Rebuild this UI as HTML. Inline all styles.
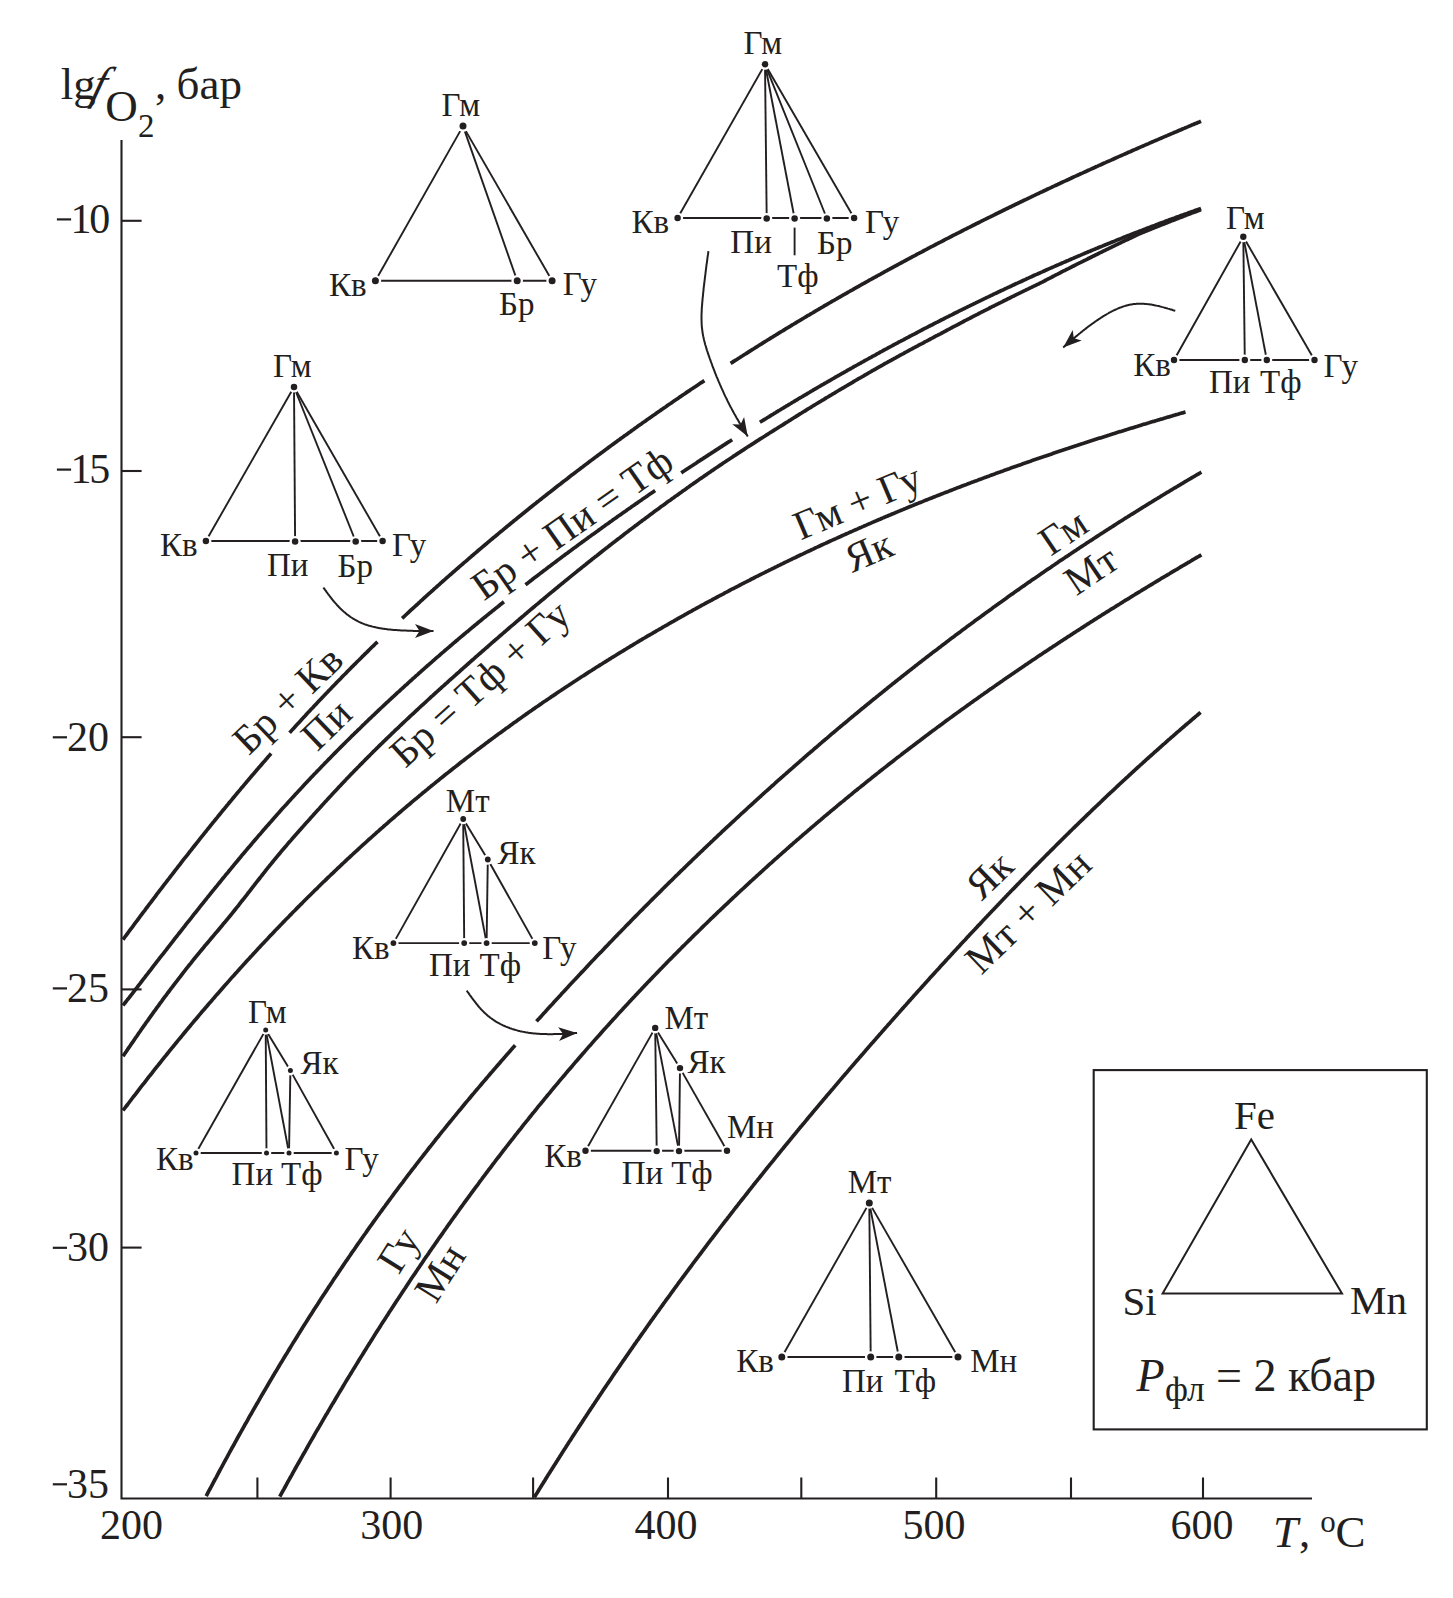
<!DOCTYPE html>
<html><head><meta charset="utf-8"><style>
html,body{margin:0;padding:0;background:#fff;}
body{width:1453px;height:1598px;overflow:hidden;}
svg{display:block;font-family:"Liberation Serif",serif;}
</style></head><body>
<svg width="1453" height="1598" viewBox="0 0 1453 1598">
<rect width="1453" height="1598" fill="#fff"/>
<g stroke="#231f20" stroke-width="2.1" fill="none" stroke-linecap="butt">
<path d="M121.5 140 L121.5 1498.5 L1312 1498.5"/>
<path d="M121.5 220.8 L141.6 220.8"/>
<path d="M121.5 471.0 L141.6 471.0"/>
<path d="M121.5 737.2 L141.6 737.2"/>
<path d="M121.5 989.4 L141.6 989.4"/>
<path d="M121.5 1247.6 L141.6 1247.6"/>
<path d="M257.4 1498 L257.4 1477.5"/>
<path d="M390.6 1498 L390.6 1477.5"/>
<path d="M533.1 1498 L533.1 1477.5"/>
<path d="M668.0 1498 L668.0 1477.5"/>
<path d="M801.3 1498 L801.3 1477.5"/>
<path d="M936.2 1498 L936.2 1477.5"/>
<path d="M1071.0 1498 L1071.0 1477.5"/>
<path d="M1203.0 1498 L1203.0 1477.5"/>
</g>
<g fill="#231f20" style="font-family:&quot;Liberation Serif&quot;,serif">
<text x="70.6" y="232.6" font-size="42.0" text-anchor="start" >1</text>
<text x="89.2" y="232.6" font-size="42.0" text-anchor="start" >0</text>
<text x="70.6" y="482.8" font-size="42.0" text-anchor="start" >1</text>
<text x="89.2" y="482.8" font-size="42.0" text-anchor="start" >5</text>
<text x="109.0" y="750.5" font-size="42.0" text-anchor="end" >20</text>
<text x="109.0" y="1001.6" font-size="42.0" text-anchor="end" >25</text>
<text x="109.0" y="1261.0" font-size="42.0" text-anchor="end" >30</text>
<text x="109.0" y="1497.5" font-size="42.0" text-anchor="end" >35</text>
</g>
<g stroke="#231f20" stroke-width="2.2">
<path d="M56.9 219.4 L71.1 219.4"/>
<path d="M56.9 469.6 L71.1 469.6"/>
<path d="M52.8 737.3 L67.0 737.3"/>
<path d="M52.8 988.4 L67.0 988.4"/>
<path d="M52.8 1247.8 L67.0 1247.8"/>
<path d="M52.8 1484.3 L67.0 1484.3"/>
</g>
<g fill="#231f20" style="font-family:&quot;Liberation Serif&quot;,serif">
<text x="131.5" y="1538.5" font-size="42.0" text-anchor="middle" >200</text>
<text x="391.7" y="1538.5" font-size="42.0" text-anchor="middle" >300</text>
<text x="666.0" y="1538.5" font-size="42.0" text-anchor="middle" >400</text>
<text x="934.0" y="1538.5" font-size="42.0" text-anchor="middle" >500</text>
<text x="1202.0" y="1538.5" font-size="42.0" text-anchor="middle" >600</text>
<text x="1273.0" y="1546.5" font-size="45.0" text-anchor="start" font-style="italic">T</text>
<text x="1299.0" y="1546.5" font-size="45.0" text-anchor="start" >,</text>
<text x="1320.2" y="1532.0" font-size="31.0" text-anchor="start" >o</text>
<text x="1335.5" y="1546.5" font-size="45.0" text-anchor="start" >C</text>
<text x="60.8" y="98.8" font-size="45.0" text-anchor="start" >lg</text>
<text transform="translate(89.5 98.8) skewX(-16)" font-size="46" font-style="italic">f</text>
<text x="105.3" y="121.0" font-size="45.0" text-anchor="start" >O</text>
<text x="138.1" y="136.9" font-size="33.0" text-anchor="start" >2</text>
<text x="155.0" y="98.8" font-size="45.0" text-anchor="start" >,</text>
<text x="176.6" y="98.8" font-size="45.0" text-anchor="start" >&#1073;&#1072;&#1088;</text>
</g>
<g stroke="#231f20" stroke-width="3.7" fill="none" stroke-linecap="butt" stroke-linejoin="round">
<path d="M123.0 939.6 L124.5 937.5 L126.1 935.4 L127.6 933.3 L129.2 931.2 L130.7 929.2 L132.3 927.1 L133.8 925.0 L135.3 922.9 L136.9 920.9 L138.4 918.8 L140.0 916.7 L141.5 914.7 L143.0 912.6 L144.6 910.6 L146.1 908.5 L147.7 906.5 L149.2 904.4 L150.8 902.4 L152.3 900.3 L153.8 898.3 L155.4 896.3 L156.9 894.2 L158.5 892.2 L160.0 890.2 L161.6 888.2 L163.1 886.1 L164.6 884.1 L166.2 882.1 L167.7 880.1 L169.3 878.1 L170.8 876.1 L172.4 874.1 L173.9 872.1 L175.4 870.1 L177.0 868.1 L178.5 866.1 L180.1 864.2 L181.6 862.2 L183.1 860.2 L184.7 858.2 L186.2 856.3 L187.8 854.3 L189.3 852.3 L190.9 850.4 L192.4 848.4 L193.9 846.5 L195.5 844.5 L197.0 842.6 L198.6 840.6 L200.1 838.7 L201.7 836.7 L203.2 834.8 L204.7 832.9 L206.3 831.0 L207.8 829.0 L209.4 827.1 L210.9 825.2 L212.4 823.3 L214.0 821.4 L215.5 819.5 L217.1 817.6 L218.6 815.7 L220.2 813.8 L221.7 811.9 L223.2 810.0 L224.8 808.2 L226.3 806.3 L227.9 804.4 L229.4 802.5 L231.0 800.7 L232.5 798.8 L234.0 797.0 L235.6 795.1 L237.1 793.3 L238.7 791.4 L240.2 789.6 L241.7 787.7 L243.3 785.9 L244.8 784.1 L246.4 782.2 L247.9 780.4 L249.5 778.6 L251.0 776.8 L252.5 775.0 L254.1 773.2 L255.6 771.4 L257.2 769.6 L258.7 767.8 L260.3 766.0 L261.8 764.2 L263.3 762.4 L264.9 760.7 L266.4 758.9 L268.0 757.1 L269.5 755.4 L271.1 753.6 M289.6 732.8 L291.1 731.1 L292.6 729.4 L294.2 727.7 L295.7 726.0 L297.3 724.3 L298.8 722.7 L300.4 721.0 L301.9 719.3 L303.4 717.6 L305.0 716.0 L306.5 714.3 L308.1 712.6 L309.6 711.0 L311.1 709.3 L312.7 707.7 L314.2 706.0 L315.8 704.4 L317.3 702.8 L318.9 701.1 L320.4 699.5 L321.9 697.9 L323.5 696.3 L325.0 694.6 L326.6 693.0 L328.1 691.4 L329.7 689.8 L331.2 688.2 L332.7 686.6 L334.3 685.0 L335.8 683.4 L337.4 681.8 L338.9 680.3 L340.5 678.7 L342.0 677.1 L343.5 675.5 L345.1 674.0 L346.6 672.4 L348.2 670.8 L349.7 669.3 L351.2 667.7 L352.8 666.2 L354.3 664.6 L355.9 663.1 L357.4 661.5 L359.0 660.0 L360.5 658.5 L362.0 656.9 L363.6 655.4 L365.1 653.9 L366.7 652.4 L368.2 650.9 L369.8 649.3 L371.3 647.8 L372.8 646.3 L374.4 644.8 L375.9 643.3 L377.5 641.8 M402.1 618.3 L403.7 616.9 L405.2 615.5 L406.8 614.0 L408.3 612.6 L409.8 611.2 L411.4 609.7 L412.9 608.3 L414.5 606.9 L416.0 605.5 L417.6 604.1 L419.1 602.7 L420.6 601.2 L422.2 599.8 L423.7 598.4 L425.3 597.0 L426.8 595.6 L428.4 594.2 L429.9 592.9 L431.4 591.5 L433.0 590.1 L434.5 588.7 L436.1 587.3 L437.6 585.9 L439.2 584.6 L440.7 583.2 L442.2 581.8 L443.8 580.5 L445.3 579.1 L446.9 577.7 L448.4 576.4 L449.9 575.0 L451.5 573.7 L453.0 572.3 L454.6 571.0 L456.1 569.6 L457.7 568.3 L459.2 566.9 L460.7 565.6 L462.3 564.3 L463.8 562.9 L465.4 561.6 L466.9 560.3 L468.5 558.9 L470.0 557.6 L471.5 556.3 L473.1 555.0 L474.6 553.7 L476.2 552.3 L477.7 551.0 L479.2 549.7 L480.8 548.4 L482.3 547.1 L483.9 545.8 L485.4 544.5 L487.0 543.2 L488.5 541.9 L490.0 540.6 L491.6 539.3 L493.1 538.0 L494.7 536.8 L496.2 535.5 L497.8 534.2 L499.3 532.9 L500.8 531.6 L502.4 530.4 L503.9 529.1 L505.5 527.8 L507.0 526.5 L508.6 525.3 L510.1 524.0 L511.6 522.8 L513.2 521.5 L514.7 520.2 L516.3 519.0 L517.8 517.7 L519.3 516.5 L520.9 515.2 L522.4 514.0 L524.0 512.7 L525.5 511.5 L527.1 510.2 L528.6 509.0 L530.1 507.8 L531.7 506.5 L533.2 505.3 L534.8 504.1 L536.3 502.8 L537.9 501.6 L539.4 500.4 L540.9 499.2 L542.5 497.9 L544.0 496.7 L545.6 495.5 L547.1 494.3 L548.6 493.1 L550.2 491.9 L551.7 490.7 L553.3 489.5 L554.8 488.3 L556.4 487.0 L557.9 485.8 L559.4 484.7 L561.0 483.5 L562.5 482.3 L564.1 481.1 L565.6 479.9 L567.2 478.7 L568.7 477.5 L570.2 476.3 L571.8 475.1 L573.3 474.0 L574.9 472.8 L576.4 471.6 L577.9 470.4 L579.5 469.3 L581.0 468.1 L582.6 466.9 L584.1 465.7 L585.7 464.6 L587.2 463.4 L588.7 462.3 L590.3 461.1 L591.8 459.9 L593.4 458.8 L594.9 457.6 L596.5 456.5 L598.0 455.3 L599.5 454.2 L601.1 453.0 L602.6 451.9 L604.2 450.8 L605.7 449.6 L607.3 448.5 L608.8 447.3 L610.3 446.2 L611.9 445.1 L613.4 444.0 L615.0 442.8 L616.5 441.7 L618.0 440.6 L619.6 439.5 L621.1 438.3 L622.7 437.2 L624.2 436.1 L625.8 435.0 L627.3 433.9 L628.8 432.8 L630.4 431.7 L631.9 430.5 L633.5 429.4 L635.0 428.3 L636.6 427.2 L638.1 426.1 L639.6 425.0 L641.2 423.9 L642.7 422.8 L644.3 421.8 L645.8 420.7 L647.3 419.6 L648.9 418.5 L650.4 417.4 L652.0 416.3 L653.5 415.2 L655.1 414.2 L656.6 413.1 L658.1 412.0 L659.7 410.9 L661.2 409.9 L662.8 408.8 L664.3 407.7 L665.9 406.7 L667.4 405.6 L668.9 404.5 L670.5 403.5 L672.0 402.4 L673.6 401.3 L675.1 400.3 L676.7 399.2 L678.2 398.2 L679.7 397.1 L681.3 396.1 L682.8 395.0 L684.4 394.0 L685.9 392.9 L687.4 391.9 L689.0 390.9 L690.5 389.8 L692.1 388.8 L693.6 387.8 L695.2 386.7 L696.7 385.7 L698.2 384.7 L699.8 383.6 L701.3 382.6 L702.9 381.6 L704.4 380.6 M730.6 363.4 L732.2 362.4 L733.7 361.4 L735.3 360.4 L736.8 359.5 L738.3 358.5 L739.9 357.5 L741.4 356.5 L743.0 355.5 L744.5 354.5 L746.1 353.6 L747.6 352.6 L749.1 351.6 L750.7 350.6 L752.2 349.7 L753.8 348.7 L755.3 347.7 L756.8 346.8 L758.4 345.8 L759.9 344.8 L761.5 343.9 L763.0 342.9 L764.6 341.9 L766.1 341.0 L767.6 340.0 L769.2 339.1 L770.7 338.1 L772.3 337.2 L773.8 336.2 L775.4 335.3 L776.9 334.3 L778.4 333.4 L780.0 332.4 L781.5 331.5 L783.1 330.6 L784.6 329.6 L786.1 328.7 L787.7 327.7 L789.2 326.8 L790.8 325.9 L792.3 324.9 L793.9 324.0 L795.4 323.1 L796.9 322.2 L798.5 321.2 L800.0 320.3 L801.6 319.4 L803.1 318.5 L804.7 317.5 L806.2 316.6 L807.7 315.7 L809.3 314.8 L810.8 313.9 L812.4 313.0 L813.9 312.1 L815.4 311.2 L817.0 310.2 L818.5 309.3 L820.1 308.4 L821.6 307.5 L823.2 306.6 L824.7 305.7 L826.2 304.8 L827.8 303.9 L829.3 303.0 L830.9 302.1 L832.4 301.2 L834.0 300.4 L835.5 299.5 L837.0 298.6 L838.6 297.7 L840.1 296.8 L841.7 295.9 L843.2 295.0 L844.8 294.2 L846.3 293.3 L847.8 292.4 L849.4 291.5 L850.9 290.6 L852.5 289.8 L854.0 288.9 L855.5 288.0 L857.1 287.2 L858.6 286.3 L860.2 285.4 L861.7 284.5 L863.3 283.7 L864.8 282.8 L866.3 282.0 L867.9 281.1 L869.4 280.2 L871.0 279.4 L872.5 278.5 L874.1 277.7 L875.6 276.8 L877.1 276.0 L878.7 275.1 L880.2 274.3 L881.8 273.4 L883.3 272.6 L884.8 271.7 L886.4 270.9 L887.9 270.0 L889.5 269.2 L891.0 268.3 L892.6 267.5 L894.1 266.7 L895.6 265.8 L897.2 265.0 L898.7 264.2 L900.3 263.3 L901.8 262.5 L903.4 261.7 L904.9 260.8 L906.4 260.0 L908.0 259.2 L909.5 258.3 L911.1 257.5 L912.6 256.7 L914.2 255.9 L915.7 255.1 L917.2 254.2 L918.8 253.4 L920.3 252.6 L921.9 251.8 L923.4 251.0 L924.9 250.2 L926.5 249.4 L928.0 248.5 L929.6 247.7 L931.1 246.9 L932.7 246.1 L934.2 245.3 L935.7 244.5 L937.3 243.7 L938.8 242.9 L940.4 242.1 L941.9 241.3 L943.5 240.5 L945.0 239.7 L946.5 238.9 L948.1 238.1 L949.6 237.3 L951.2 236.5 L952.7 235.7 L954.2 234.9 L955.8 234.2 L957.3 233.4 L958.9 232.6 L960.4 231.8 L962.0 231.0 L963.5 230.2 L965.0 229.4 L966.6 228.7 L968.1 227.9 L969.7 227.1 L971.2 226.3 L972.8 225.5 L974.3 224.8 L975.8 224.0 L977.4 223.2 L978.9 222.5 L980.5 221.7 L982.0 220.9 L983.5 220.1 L985.1 219.4 L986.6 218.6 L988.2 217.8 L989.7 217.1 L991.3 216.3 L992.8 215.6 L994.3 214.8 L995.9 214.0 L997.4 213.3 L999.0 212.5 L1000.5 211.8 L1002.1 211.0 L1003.6 210.2 L1005.1 209.5 L1006.7 208.7 L1008.2 208.0 L1009.8 207.2 L1011.3 206.5 L1012.9 205.7 L1014.4 205.0 L1015.9 204.2 L1017.5 203.5 L1019.0 202.8 L1020.6 202.0 L1022.1 201.3 L1023.6 200.5 L1025.2 199.8 L1026.7 199.1 L1028.3 198.3 L1029.8 197.6 L1031.4 196.8 L1032.9 196.1 L1034.4 195.4 L1036.0 194.6 L1037.5 193.9 L1039.1 193.2 L1040.6 192.4 L1042.2 191.7 L1043.7 191.0 L1045.2 190.3 L1046.8 189.5 L1048.3 188.8 L1049.9 188.1 L1051.4 187.4 L1052.9 186.6 L1054.5 185.9 L1056.0 185.2 L1057.6 184.5 L1059.1 183.8 L1060.7 183.0 L1062.2 182.3 L1063.7 181.6 L1065.3 180.9 L1066.8 180.2 L1068.4 179.5 L1069.9 178.8 L1071.5 178.0 L1073.0 177.3 L1074.5 176.6 L1076.1 175.9 L1077.6 175.2 L1079.2 174.5 L1080.7 173.8 L1082.3 173.1 L1083.8 172.4 L1085.3 171.7 L1086.9 171.0 L1088.4 170.3 L1090.0 169.6 L1091.5 168.9 L1093.0 168.2 L1094.6 167.5 L1096.1 166.8 L1097.7 166.1 L1099.2 165.4 L1100.8 164.7 L1102.3 164.0 L1103.8 163.3 L1105.4 162.6 L1106.9 161.9 L1108.5 161.2 L1110.0 160.6 L1111.6 159.9 L1113.1 159.2 L1114.6 158.5 L1116.2 157.8 L1117.7 157.1 L1119.3 156.4 L1120.8 155.8 L1122.3 155.1 L1123.9 154.4 L1125.4 153.7 L1127.0 153.0 L1128.5 152.3 L1130.1 151.7 L1131.6 151.0 L1133.1 150.3 L1134.7 149.6 L1136.2 149.0 L1137.8 148.3 L1139.3 147.6 L1140.9 146.9 L1142.4 146.3 L1143.9 145.6 L1145.5 144.9 L1147.0 144.3 L1148.6 143.6 L1150.1 142.9 L1151.6 142.2 L1153.2 141.6 L1154.7 140.9 L1156.3 140.2 L1157.8 139.6 L1159.4 138.9 L1160.9 138.3 L1162.4 137.6 L1164.0 136.9 L1165.5 136.3 L1167.1 135.6 L1168.6 134.9 L1170.2 134.3 L1171.7 133.6 L1173.2 133.0 L1174.8 132.3 L1176.3 131.7 L1177.9 131.0 L1179.4 130.3 L1181.0 129.7 L1182.5 129.0 L1184.0 128.4 L1185.6 127.7 L1187.1 127.1 L1188.7 126.4 L1190.2 125.8 L1191.7 125.1 L1193.3 124.5 L1194.8 123.8 L1196.4 123.2 L1197.9 122.5 L1199.5 121.9 L1201.0 121.2"/>
<path d="M123.0 1005.5 L124.5 1003.5 L126.1 1001.5 L127.6 999.5 L129.2 997.6 L130.7 995.6 L132.3 993.6 L133.8 991.6 L135.3 989.6 L136.9 987.6 L138.4 985.6 L140.0 983.6 L141.5 981.6 L143.0 979.6 L144.6 977.6 L146.1 975.6 L147.7 973.6 L149.2 971.6 L150.8 969.7 L152.3 967.7 L153.8 965.7 L155.4 963.7 L156.9 961.7 L158.5 959.7 L160.0 957.7 L161.6 955.7 L163.1 953.8 L164.6 951.8 L166.2 949.8 L167.7 947.8 L169.3 945.8 L170.8 943.9 L172.4 941.9 L173.9 939.9 L175.4 937.9 L177.0 936.0 L178.5 934.0 L180.1 932.0 L181.6 930.1 L183.1 928.1 L184.7 926.2 L186.2 924.2 L187.8 922.2 L189.3 920.3 L190.9 918.3 L192.4 916.4 L193.9 914.4 L195.5 912.5 L197.0 910.6 L198.6 908.6 L200.1 906.7 L201.7 904.7 L203.2 902.8 L204.7 900.9 L206.3 899.0 L207.8 897.0 L209.4 895.1 L210.9 893.2 L212.4 891.3 L214.0 889.4 L215.5 887.5 L217.1 885.6 L218.6 883.7 L220.2 881.8 L221.7 879.9 L223.2 878.0 L224.8 876.1 L226.3 874.2 L227.9 872.4 L229.4 870.5 L231.0 868.6 L232.5 866.8 L234.0 864.9 L235.6 863.0 L237.1 861.2 L238.7 859.3 L240.2 857.5 L241.7 855.6 L243.3 853.8 L244.8 852.0 L246.4 850.1 L247.9 848.3 L249.5 846.5 L251.0 844.7 L252.5 842.9 L254.1 841.0 L255.6 839.2 L257.2 837.4 L258.7 835.6 L260.3 833.9 L261.8 832.1 L263.3 830.3 L264.9 828.5 L266.4 826.7 L268.0 825.0 L269.5 823.2 L271.1 821.5 L272.6 819.7 L274.1 818.0 L275.7 816.2 L277.2 814.5 L278.8 812.8 L280.3 811.0 L281.8 809.3 L283.4 807.6 L284.9 805.9 L286.5 804.2 L288.0 802.5 L289.6 800.8 L291.1 799.1 L292.6 797.4 L294.2 795.7 L295.7 794.1 L297.3 792.4 L298.8 790.7 L300.4 789.1 L301.9 787.4 L303.4 785.8 L305.0 784.1 L306.5 782.5 L308.1 780.8 L309.6 779.2 L311.1 777.6 L312.7 775.9 L314.2 774.3 L315.8 772.7 L317.3 771.1 L318.9 769.5 L320.4 767.9 L321.9 766.3 L323.5 764.7 L325.0 763.1 L326.6 761.5 L328.1 759.9 L329.7 758.4 L331.2 756.8 L332.7 755.2 L334.3 753.6 L335.8 752.1 L337.4 750.5 L338.9 749.0 L340.5 747.4 L342.0 745.9 L343.5 744.3 L345.1 742.8 L346.6 741.3 L348.2 739.7 L349.7 738.2 L351.2 736.7 L352.8 735.2 L354.3 733.7 L355.9 732.2 L357.4 730.7 L359.0 729.2 L360.5 727.7 L362.0 726.2 L363.6 724.7 L365.1 723.2 L366.7 721.7 L368.2 720.2 L369.8 718.7 L371.3 717.3 L372.8 715.8 L374.4 714.3 L375.9 712.9 L377.5 711.4 L379.0 709.9 L380.5 708.5 L382.1 707.0 L383.6 705.6 L385.2 704.1 L386.7 702.7 L388.3 701.3 L389.8 699.8 L391.3 698.4 L392.9 697.0 L394.4 695.6 L396.0 694.1 L397.5 692.7 L399.1 691.3 L400.6 689.9 L402.1 688.5 L403.7 687.1 L405.2 685.7 L406.8 684.3 L408.3 682.9 L409.8 681.5 L411.4 680.1 L412.9 678.7 L414.5 677.3 L416.0 675.9 L417.6 674.6 L419.1 673.2 L420.6 671.8 L422.2 670.4 L423.7 669.1 L425.3 667.7 L426.8 666.3 L428.4 665.0 L429.9 663.6 L431.4 662.3 L433.0 660.9 L434.5 659.6 L436.1 658.2 L437.6 656.9 L439.2 655.6 L440.7 654.2 L442.2 652.9 L443.8 651.6 L445.3 650.2 L446.9 648.9 L448.4 647.6 L449.9 646.3 L451.5 645.0 L453.0 643.6 L454.6 642.3 L456.1 641.0 L457.7 639.7 L459.2 638.4 L460.7 637.1 L462.3 635.8 L463.8 634.5 L465.4 633.2 L466.9 631.9 L468.5 630.7 L470.0 629.4 L471.5 628.1 L473.1 626.8 L474.6 625.5 L476.2 624.3 L477.7 623.0 L479.2 621.7 L480.8 620.5 L482.3 619.2 L483.9 617.9 L485.4 616.7 L487.0 615.4 L488.5 614.2 L490.0 612.9 L491.6 611.7 L493.1 610.4 L494.7 609.2 L496.2 607.9 L497.8 606.7 L499.3 605.5 L500.8 604.2 L502.4 603.0 L503.9 601.8 M525.5 584.8 L527.1 583.6 L528.6 582.4 L530.1 581.2 L531.7 580.0 L533.2 578.8 L534.8 577.6 L536.3 576.5 L537.9 575.3 L539.4 574.1 L540.9 572.9 L542.5 571.7 L544.0 570.6 L545.6 569.4 L547.1 568.2 L548.6 567.1 L550.2 565.9 L551.7 564.7 L553.3 563.6 L554.8 562.4 L556.4 561.2 L557.9 560.1 L559.4 558.9 L561.0 557.8 L562.5 556.6 L564.1 555.5 L565.6 554.3 L567.2 553.2 L568.7 552.0 L570.2 550.9 L571.8 549.8 L573.3 548.6 L574.9 547.5 L576.4 546.4 L577.9 545.2 L579.5 544.1 L581.0 543.0 L582.6 541.8 L584.1 540.7 L585.7 539.6 L587.2 538.5 L588.7 537.3 L590.3 536.2 L591.8 535.1 L593.4 534.0 L594.9 532.9 L596.5 531.8 L598.0 530.7 L599.5 529.5 L601.1 528.4 L602.6 527.3 L604.2 526.2 L605.7 525.1 L607.3 524.0 L608.8 522.9 L610.3 521.8 L611.9 520.7 L613.4 519.6 L615.0 518.5 L616.5 517.4 L618.0 516.3 L619.6 515.3 L621.1 514.2 L622.7 513.1 L624.2 512.0 L625.8 510.9 L627.3 509.8 L628.8 508.8 L630.4 507.7 L631.9 506.6 L633.5 505.5 L635.0 504.4 L636.6 503.4 L638.1 502.3 L639.6 501.2 L641.2 500.2 L642.7 499.1 L644.3 498.0 L645.8 497.0 L647.3 495.9 L648.9 494.8 L650.4 493.8 L652.0 492.7 L653.5 491.7 L655.1 490.6 M681.3 472.9 L682.8 471.8 L684.4 470.8 L685.9 469.8 L687.4 468.8 L689.0 467.7 L690.5 466.7 L692.1 465.7 L693.6 464.7 L695.2 463.7 L696.7 462.7 L698.2 461.6 L699.8 460.6 L701.3 459.6 L702.9 458.6 L704.4 457.6 L706.0 456.6 L707.5 455.6 L709.0 454.6 L710.6 453.6 L712.1 452.6 L713.7 451.6 L715.2 450.6 L716.7 449.6 L718.3 448.6 L719.8 447.6 L721.4 446.6 L722.9 445.6 L724.5 444.6 L726.0 443.6 L727.5 442.6 L729.1 441.7 L730.6 440.7 L732.2 439.7 M759.9 422.3 L761.5 421.3 L763.0 420.4 L764.6 419.4 L766.1 418.5 L767.6 417.5 L769.2 416.6 L770.7 415.6 L772.3 414.7 L773.8 413.7 L775.4 412.8 L776.9 411.8 L778.4 410.9 L780.0 410.0 L781.5 409.0 L783.1 408.1 L784.6 407.2 L786.1 406.2 L787.7 405.3 L789.2 404.4 L790.8 403.5 L792.3 402.5 L793.9 401.6 L795.4 400.7 L796.9 399.8 L798.5 398.8 L800.0 397.9 L801.6 397.0 L803.1 396.1 L804.7 395.2 L806.2 394.3 L807.7 393.4 L809.3 392.5 L810.8 391.5 L812.4 390.6 L813.9 389.7 L815.4 388.8 L817.0 387.9 L818.5 387.0 L820.1 386.1 L821.6 385.2 L823.2 384.3 L824.7 383.4 L826.2 382.6 L827.8 381.7 L829.3 380.8 L830.9 379.9 L832.4 379.0 L834.0 378.1 L835.5 377.2 L837.0 376.3 L838.6 375.5 L840.1 374.6 L841.7 373.7 L843.2 372.8 L844.8 372.0 L846.3 371.1 L847.8 370.2 L849.4 369.3 L850.9 368.5 L852.5 367.6 L854.0 366.7 L855.5 365.9 L857.1 365.0 L858.6 364.1 L860.2 363.3 L861.7 362.4 L863.3 361.6 L864.8 360.7 L866.3 359.9 L867.9 359.0 L869.4 358.1 L871.0 357.3 L872.5 356.4 L874.1 355.6 L875.6 354.8 L877.1 353.9 L878.7 353.1 L880.2 352.2 L881.8 351.4 L883.3 350.5 L884.8 349.7 L886.4 348.9 L887.9 348.0 L889.5 347.2 L891.0 346.4 L892.6 345.5 L894.1 344.7 L895.6 343.9 L897.2 343.1 L898.7 342.2 L900.3 341.4 L901.8 340.6 L903.4 339.8 L904.9 339.0 L906.4 338.1 L908.0 337.3 L909.5 336.5 L911.1 335.7 L912.6 334.9 L914.2 334.1 L915.7 333.3 L917.2 332.5 L918.8 331.6 L920.3 330.8 L921.9 330.0 L923.4 329.2 L924.9 328.4 L926.5 327.6 L928.0 326.8 L929.6 326.0 L931.1 325.3 L932.7 324.5 L934.2 323.7 L935.7 322.9 L937.3 322.1 L938.8 321.3 L940.4 320.5 L941.9 319.7 L943.5 319.0 L945.0 318.2 L946.5 317.4 L948.1 316.6 L949.6 315.8 L951.2 315.1 L952.7 314.3 L954.2 313.5 L955.8 312.7 L957.3 312.0 L958.9 311.2 L960.4 310.4 L962.0 309.7 L963.5 308.9 L965.0 308.2 L966.6 307.4 L968.1 306.6 L969.7 305.9 L971.2 305.1 L972.8 304.4 L974.3 303.6 L975.8 302.9 L977.4 302.1 L978.9 301.4 L980.5 300.6 L982.0 299.9 L983.5 299.1 L985.1 298.4 L986.6 297.6 L988.2 296.9 L989.7 296.2 L991.3 295.4 L992.8 294.7 L994.3 293.9 L995.9 293.2 L997.4 292.5 L999.0 291.7 L1000.5 291.0 L1002.1 290.3 L1003.6 289.6 L1005.1 288.8 L1006.7 288.1 L1008.2 287.4 L1009.8 286.7 L1011.3 286.0 L1012.9 285.2 L1014.4 284.5 L1015.9 283.8 L1017.5 283.1 L1019.0 282.4 L1020.6 281.7 L1022.1 281.0 L1023.6 280.3 L1025.2 279.6 L1026.7 278.8 L1028.3 278.1 L1029.8 277.4 L1031.4 276.7 L1032.9 276.0 L1034.4 275.3 L1036.0 274.6 L1037.5 274.0 L1039.1 273.3 L1040.6 272.6 L1042.2 271.9 L1043.7 271.2 L1045.2 270.5 L1046.8 269.8 L1048.3 269.1 L1049.9 268.4 L1051.4 267.8 L1052.9 267.1 L1054.5 266.4 L1056.0 265.7 L1057.6 265.1 L1059.1 264.4 L1060.7 263.7 L1062.2 263.0 L1063.7 262.4 L1065.3 261.7 L1066.8 261.0 L1068.4 260.4 L1069.9 259.7 L1071.5 259.0 L1073.0 258.4 L1074.5 257.7 L1076.1 257.1 L1077.6 256.4 L1079.2 255.7 L1080.7 255.1 L1082.3 254.4 L1083.8 253.8 L1085.3 253.1 L1086.9 252.5 L1088.4 251.8 L1090.0 251.2 L1091.5 250.5 L1093.0 249.9 L1094.6 249.3 L1096.1 248.6 L1097.7 248.0 L1099.2 247.3 L1100.8 246.7 L1102.3 246.1 L1103.8 245.4 L1105.4 244.8 L1106.9 244.2 L1108.5 243.6 L1110.0 242.9 L1111.6 242.3 L1113.1 241.7 L1114.6 241.1 L1116.2 240.4 L1117.7 239.8 L1119.3 239.2 L1120.8 238.6 L1122.3 238.0 L1123.9 237.3 L1125.4 236.7 L1127.0 236.1 L1128.5 235.5 L1130.1 234.9 L1131.6 234.3 L1133.1 233.7 L1134.7 233.1 L1136.2 232.5 L1137.8 231.9 L1139.3 231.3 L1140.9 230.7 L1142.4 230.1 L1143.9 229.5 L1145.5 228.9 L1147.0 228.3 L1148.6 227.7 L1150.1 227.1 L1151.6 226.5 L1153.2 225.9 L1154.7 225.4 L1156.3 224.8 L1157.8 224.2 L1159.4 223.6 L1160.9 223.0 L1162.4 222.4 L1164.0 221.9 L1165.5 221.3 L1167.1 220.7 L1168.6 220.1 L1170.2 219.6 L1171.7 219.0 L1173.2 218.4 L1174.8 217.9 L1176.3 217.3 L1177.9 216.7 L1179.4 216.2 L1181.0 215.6 L1182.5 215.1 L1184.0 214.5 L1185.6 213.9 L1187.1 213.4 L1188.7 212.8 L1190.2 212.3 L1191.7 211.7 L1193.3 211.2 L1194.8 210.6 L1196.4 210.1 L1197.9 209.5 L1199.5 209.0 L1201.0 208.4"/>
<path d="M123.0 1056.3 L124.5 1054.0 L126.1 1051.7 L127.6 1049.4 L129.2 1047.2 L130.7 1044.9 L132.3 1042.7 L133.8 1040.4 L135.3 1038.2 L136.9 1036.0 L138.4 1033.7 L140.0 1031.5 L141.5 1029.3 L143.0 1027.1 L144.6 1024.9 L146.1 1022.7 L147.7 1020.6 L149.2 1018.4 L150.8 1016.2 L152.3 1014.1 L153.8 1011.9 L155.4 1009.8 L156.9 1007.7 L158.5 1005.6 L160.0 1003.4 L161.6 1001.3 L163.1 999.2 L164.6 997.2 L166.2 995.1 L167.7 993.0 L169.3 991.0 L170.8 988.9 L172.4 986.9 L173.9 984.8 L175.4 982.8 L177.0 980.8 L178.5 978.8 L180.1 976.8 L181.6 974.8 L183.1 972.8 L184.7 970.8 L186.2 968.9 L187.8 966.9 L189.3 965.0 L190.9 963.1 L192.4 961.1 L193.9 959.2 L195.5 957.3 L197.0 955.4 L198.6 953.6 L200.1 951.7 L201.7 949.8 L203.2 948.0 L204.7 946.1 L206.3 944.3 L207.8 942.5 L209.4 940.6 L210.9 938.8 L212.4 937.0 L214.0 935.1 L215.5 933.3 L217.1 931.5 L218.6 929.7 L220.2 927.8 L221.7 926.0 L223.2 924.1 L224.8 922.3 L226.3 920.4 L227.9 918.6 L229.4 916.7 L231.0 914.8 L232.5 912.9 L234.0 911.0 L235.6 909.0 L237.1 907.1 L238.7 905.2 L240.2 903.2 L241.7 901.2 L243.3 899.3 L244.8 897.3 L246.4 895.3 L247.9 893.3 L249.5 891.4 L251.0 889.4 L252.5 887.4 L254.1 885.4 L255.6 883.4 L257.2 881.4 L258.7 879.5 L260.3 877.5 L261.8 875.5 L263.3 873.6 L264.9 871.6 L266.4 869.7 L268.0 867.7 L269.5 865.8 L271.1 863.9 L272.6 862.0 L274.1 860.1 L275.7 858.2 L277.2 856.4 L278.8 854.5 L280.3 852.7 L281.8 850.8 L283.4 849.0 L284.9 847.2 L286.5 845.4 L288.0 843.6 L289.6 841.8 L291.1 840.1 L292.6 838.3 L294.2 836.5 L295.7 834.8 L297.3 833.0 L298.8 831.3 L300.4 829.5 L301.9 827.8 L303.4 826.1 L305.0 824.3 L306.5 822.6 L308.1 820.9 L309.6 819.2 L311.1 817.4 L312.7 815.7 L314.2 814.0 L315.8 812.3 L317.3 810.6 L318.9 808.9 L320.4 807.2 L321.9 805.5 L323.5 803.8 L325.0 802.1 L326.6 800.4 L328.1 798.7 L329.7 797.0 L331.2 795.4 L332.7 793.7 L334.3 792.0 L335.8 790.4 L337.4 788.7 L338.9 787.1 L340.5 785.4 L342.0 783.8 L343.5 782.2 L345.1 780.6 L346.6 778.9 L348.2 777.3 L349.7 775.7 L351.2 774.1 L352.8 772.5 L354.3 770.9 L355.9 769.4 L357.4 767.8 L359.0 766.2 L360.5 764.6 L362.0 763.1 L363.6 761.5 L365.1 759.9 L366.7 758.4 L368.2 756.8 L369.8 755.3 L371.3 753.8 L372.8 752.2 L374.4 750.7 L375.9 749.2 L377.5 747.7 L379.0 746.1 L380.5 744.6 L382.1 743.1 L383.6 741.6 L385.2 740.1 L386.7 738.6 L388.3 737.1 L389.8 735.7 L391.3 734.2 L392.9 732.7 L394.4 731.2 L396.0 729.7 L397.5 728.3 L399.1 726.8 L400.6 725.3 L402.1 723.9 L403.7 722.4 L405.2 721.0 L406.8 719.5 L408.3 718.1 L409.8 716.6 L411.4 715.2 L412.9 713.8 L414.5 712.3 L416.0 710.9 L417.6 709.5 L419.1 708.0 L420.6 706.6 L422.2 705.2 L423.7 703.8 L425.3 702.4 L426.8 701.0 L428.4 699.5 L429.9 698.1 L431.4 696.7 L433.0 695.3 L434.5 693.9 L436.1 692.5 L437.6 691.1 L439.2 689.7 L440.7 688.3 L442.2 686.9 L443.8 685.6 L445.3 684.2 L446.9 682.8 L448.4 681.4 L449.9 680.0 L451.5 678.6 L453.0 677.3 L454.6 675.9 L456.1 674.5 L457.7 673.1 L459.2 671.8 L460.7 670.4 L462.3 669.0 L463.8 667.6 L465.4 666.3 L466.9 664.9 L468.5 663.5 L470.0 662.2 L471.5 660.8 L473.1 659.5 L474.6 658.1 L476.2 656.7 L477.7 655.4 L479.2 654.0 L480.8 652.7 L482.3 651.3 L483.9 650.0 L485.4 648.6 L487.0 647.3 L488.5 645.9 L490.0 644.6 L491.6 643.2 L493.1 641.9 L494.7 640.5 L496.2 639.2 L497.8 637.9 L499.3 636.5 L500.8 635.2 L502.4 633.9 L503.9 632.5 L505.5 631.2 L507.0 629.9 L508.6 628.5 L510.1 627.2 L511.6 625.9 L513.2 624.6 L514.7 623.3 L516.3 621.9 L517.8 620.6 L519.3 619.3 L520.9 618.0 L522.4 616.7 L524.0 615.4 L525.5 614.0 L527.1 612.7 L528.6 611.4 L530.1 610.1 L531.7 608.8 L533.2 607.5 L534.8 606.2 L536.3 604.9 L537.9 603.6 L539.4 602.3 L540.9 601.0 L542.5 599.8 L544.0 598.5 L545.6 597.2 L547.1 595.9 L548.6 594.6 L550.2 593.3 L551.7 592.1 L553.3 590.8 L554.8 589.5 L556.4 588.2 L557.9 587.0 L559.4 585.7 L561.0 584.4 L562.5 583.2 L564.1 581.9 L565.6 580.6 L567.2 579.4 L568.7 578.1 L570.2 576.9 L571.8 575.6 L573.3 574.4 L574.9 573.1 L576.4 571.9 L577.9 570.6 L579.5 569.4 L581.0 568.2 L582.6 566.9 L584.1 565.7 L585.7 564.5 L587.2 563.2 L588.7 562.0 L590.3 560.8 L591.8 559.5 L593.4 558.3 L594.9 557.1 L596.5 555.9 L598.0 554.7 L599.5 553.5 L601.1 552.2 L602.6 551.0 L604.2 549.8 L605.7 548.6 L607.3 547.4 L608.8 546.2 L610.3 545.0 L611.9 543.8 L613.4 542.6 L615.0 541.4 L616.5 540.2 L618.0 539.0 L619.6 537.9 L621.1 536.7 L622.7 535.5 L624.2 534.3 L625.8 533.1 L627.3 531.9 L628.8 530.8 L630.4 529.6 L631.9 528.4 L633.5 527.3 L635.0 526.1 L636.6 524.9 L638.1 523.8 L639.6 522.6 L641.2 521.5 L642.7 520.3 L644.3 519.2 L645.8 518.0 L647.3 516.9 L648.9 515.7 L650.4 514.6 L652.0 513.4 L653.5 512.3 L655.1 511.1 L656.6 510.0 L658.1 508.9 L659.7 507.7 L661.2 506.6 L662.8 505.5 L664.3 504.4 L665.9 503.2 L667.4 502.1 L668.9 501.0 L670.5 499.9 L672.0 498.8 L673.6 497.7 L675.1 496.6 L676.7 495.5 L678.2 494.4 L679.7 493.3 L681.3 492.2 L682.8 491.1 L684.4 490.0 L685.9 488.9 L687.4 487.8 L689.0 486.7 L690.5 485.6 L692.1 484.5 L693.6 483.4 L695.2 482.4 L696.7 481.3 L698.2 480.2 L699.8 479.1 L701.3 478.1 L702.9 477.0 L704.4 475.9 L706.0 474.9 L707.5 473.8 L709.0 472.8 L710.6 471.7 L712.1 470.6 L713.7 469.6 L715.2 468.5 L716.7 467.5 L718.3 466.4 L719.8 465.4 L721.4 464.4 L722.9 463.3 L724.5 462.3 L726.0 461.3 L727.5 460.2 L729.1 459.2 L730.6 458.2 L732.2 457.2 L733.7 456.1 L735.3 455.1 L736.8 454.1 L738.3 453.1 L739.9 452.1 L741.4 451.1 L743.0 450.1 L744.5 449.1 L746.1 448.0 L747.6 447.0 L749.1 446.1 L750.7 445.1 L752.2 444.1 L753.8 443.1 L755.3 442.1 L756.8 441.1 L758.4 440.1 L759.9 439.1 L761.5 438.2 L763.0 437.2 L764.6 436.2 L766.1 435.2 L767.6 434.3 L769.2 433.3 L770.7 432.3 L772.3 431.4 L773.8 430.4 L775.4 429.4 L776.9 428.5 L778.4 427.5 L780.0 426.5 L781.5 425.6 L783.1 424.6 L784.6 423.6 L786.1 422.7 L787.7 421.7 L789.2 420.7 L790.8 419.8 L792.3 418.8 L793.9 417.8 L795.4 416.9 L796.9 415.9 L798.5 414.9 L800.0 413.9 L801.6 413.0 L803.1 412.0 L804.7 411.1 L806.2 410.1 L807.7 409.2 L809.3 408.2 L810.8 407.3 L812.4 406.3 L813.9 405.4 L815.4 404.5 L817.0 403.5 L818.5 402.6 L820.1 401.7 L821.6 400.7 L823.2 399.8 L824.7 398.9 L826.2 397.9 L827.8 397.0 L829.3 396.1 L830.9 395.2 L832.4 394.2 L834.0 393.3 L835.5 392.4 L837.0 391.5 L838.6 390.5 L840.1 389.6 L841.7 388.7 L843.2 387.8 L844.8 386.9 L846.3 386.0 L847.8 385.1 L849.4 384.2 L850.9 383.3 L852.5 382.4 L854.0 381.4 L855.5 380.5 L857.1 379.6 L858.6 378.7 L860.2 377.9 L861.7 377.0 L863.3 376.1 L864.8 375.2 L866.3 374.3 L867.9 373.4 L869.4 372.5 L871.0 371.6 L872.5 370.7 L874.1 369.8 L875.6 369.0 L877.1 368.1 L878.7 367.2 L880.2 366.3 L881.8 365.5 L883.3 364.6 L884.8 363.7 L886.4 362.9 L887.9 362.0 L889.5 361.2 L891.0 360.3 L892.6 359.5 L894.1 358.6 L895.6 357.8 L897.2 356.9 L898.7 356.1 L900.3 355.2 L901.8 354.4 L903.4 353.6 L904.9 352.7 L906.4 351.9 L908.0 351.0 L909.5 350.2 L911.1 349.4 L912.6 348.5 L914.2 347.7 L915.7 346.9 L917.2 346.1 L918.8 345.2 L920.3 344.4 L921.9 343.6 L923.4 342.8 L924.9 341.9 L926.5 341.1 L928.0 340.3 L929.6 339.5 L931.1 338.7 L932.7 337.9 L934.2 337.0 L935.7 336.2 L937.3 335.4 L938.8 334.6 L940.4 333.8 L941.9 333.0 L943.5 332.2 L945.0 331.3 L946.5 330.5 L948.1 329.7 L949.6 328.9 L951.2 328.0 L952.7 327.2 L954.2 326.4 L955.8 325.6 L957.3 324.8 L958.9 324.0 L960.4 323.2 L962.0 322.3 L963.5 321.5 L965.0 320.7 L966.6 319.9 L968.1 319.1 L969.7 318.3 L971.2 317.5 L972.8 316.7 L974.3 315.9 L975.8 315.1 L977.4 314.3 L978.9 313.5 L980.5 312.7 L982.0 311.9 L983.5 311.2 L985.1 310.4 L986.6 309.6 L988.2 308.8 L989.7 308.0 L991.3 307.2 L992.8 306.4 L994.3 305.7 L995.9 304.9 L997.4 304.1 L999.0 303.3 L1000.5 302.6 L1002.1 301.8 L1003.6 301.0 L1005.1 300.3 L1006.7 299.5 L1008.2 298.7 L1009.8 298.0 L1011.3 297.2 L1012.9 296.4 L1014.4 295.7 L1015.9 294.9 L1017.5 294.1 L1019.0 293.4 L1020.6 292.6 L1022.1 291.9 L1023.6 291.1 L1025.2 290.4 L1026.7 289.6 L1028.3 288.9 L1029.8 288.1 L1031.4 287.4 L1032.9 286.6 L1034.4 285.9 L1036.0 285.2 L1037.5 284.4 L1039.1 283.7 L1040.6 282.9 L1042.2 282.1 L1043.7 281.3 L1045.2 280.5 L1046.8 279.7 L1048.3 278.9 L1049.9 278.1 L1051.4 277.3 L1052.9 276.5 L1054.5 275.7 L1056.0 274.9 L1057.6 274.1 L1059.1 273.3 L1060.7 272.5 L1062.2 271.7 L1063.7 270.9 L1065.3 270.2 L1066.8 269.4 L1068.4 268.6 L1069.9 267.8 L1071.5 267.0 L1073.0 266.2 L1074.5 265.5 L1076.1 264.7 L1077.6 263.9 L1079.2 263.1 L1080.7 262.4 L1082.3 261.6 L1083.8 260.8 L1085.3 260.1 L1086.9 259.3 L1088.4 258.5 L1090.0 257.8 L1091.5 257.0 L1093.0 256.2 L1094.6 255.5 L1096.1 254.7 L1097.7 254.0 L1099.2 253.2 L1100.8 252.4 L1102.3 251.7 L1103.8 250.9 L1105.4 250.2 L1106.9 249.4 L1108.5 248.7 L1110.0 247.9 L1111.6 247.2 L1113.1 246.4 L1114.6 245.7 L1116.2 244.9 L1117.7 244.2 L1119.3 243.4 L1120.8 242.7 L1122.3 241.9 L1123.9 241.2 L1125.4 240.4 L1127.0 239.7 L1128.5 239.0 L1130.1 238.2 L1131.6 237.5 L1133.1 236.8 L1134.7 236.0 L1136.2 235.3 L1137.8 234.6 L1139.3 233.9 L1140.9 233.2 L1142.4 232.6 L1143.9 232.0 L1145.5 231.3 L1147.0 230.7 L1148.6 230.1 L1150.1 229.5 L1151.6 228.8 L1153.2 228.2 L1154.7 227.6 L1156.3 227.0 L1157.8 226.4 L1159.4 225.7 L1160.9 225.1 L1162.4 224.5 L1164.0 223.9 L1165.5 223.3 L1167.1 222.7 L1168.6 222.1 L1170.2 221.5 L1171.7 220.9 L1173.2 220.3 L1174.8 219.7 L1176.3 219.1 L1177.9 218.5 L1179.4 217.9 L1181.0 217.3 L1182.5 216.7 L1184.0 216.1 L1185.6 215.5 L1187.1 214.9 L1188.7 214.3 L1190.2 213.7 L1191.7 213.1 L1193.3 212.5 L1194.8 212.0 L1196.4 211.4 L1197.9 210.8 L1199.5 210.2 L1201.0 209.6"/>
<path d="M123.0 1110.5 L124.5 1108.5 L126.0 1106.5 L127.6 1104.5 L129.1 1102.5 L130.6 1100.5 L132.1 1098.5 L133.6 1096.5 L135.2 1094.6 L136.7 1092.6 L138.2 1090.6 L139.7 1088.6 L141.2 1086.7 L142.8 1084.7 L144.3 1082.8 L145.8 1080.8 L147.3 1078.9 L148.8 1076.9 L150.4 1075.0 L151.9 1073.1 L153.4 1071.1 L154.9 1069.2 L156.4 1067.3 L158.0 1065.4 L159.5 1063.5 L161.0 1061.6 L162.5 1059.7 L164.0 1057.8 L165.6 1055.9 L167.1 1054.0 L168.6 1052.1 L170.1 1050.2 L171.6 1048.4 L173.2 1046.5 L174.7 1044.6 L176.2 1042.8 L177.7 1040.9 L179.2 1039.1 L180.8 1037.2 L182.3 1035.4 L183.8 1033.5 L185.3 1031.7 L186.8 1029.9 L188.4 1028.0 L189.9 1026.2 L191.4 1024.4 L192.9 1022.6 L194.4 1020.8 L196.0 1019.0 L197.5 1017.2 L199.0 1015.4 L200.5 1013.6 L202.0 1011.8 L203.6 1010.0 L205.1 1008.2 L206.6 1006.5 L208.1 1004.7 L209.6 1002.9 L211.2 1001.2 L212.7 999.4 L214.2 997.7 L215.7 995.9 L217.2 994.2 L218.8 992.4 L220.3 990.7 L221.8 989.0 L223.3 987.2 L224.8 985.5 L226.4 983.8 L227.9 982.1 L229.4 980.4 L230.9 978.6 L232.4 976.9 L234.0 975.2 L235.5 973.5 L237.0 971.9 L238.5 970.2 L240.0 968.5 L241.6 966.8 L243.1 965.1 L244.6 963.5 L246.1 961.8 L247.6 960.1 L249.2 958.5 L250.7 956.8 L252.2 955.2 L253.7 953.5 L255.2 951.9 L256.8 950.2 L258.3 948.6 L259.8 947.0 L261.3 945.3 L262.8 943.7 L264.4 942.1 L265.9 940.5 L267.4 938.9 L268.9 937.2 L270.4 935.6 L272.0 934.0 L273.5 932.4 L275.0 930.8 L276.5 929.3 L278.0 927.7 L279.6 926.1 L281.1 924.5 L282.6 922.9 L284.1 921.4 L285.6 919.8 L287.2 918.2 L288.7 916.7 L290.2 915.1 L291.7 913.6 L293.2 912.0 L294.8 910.5 L296.3 908.9 L297.8 907.4 L299.3 905.9 L300.8 904.3 L302.4 902.8 L303.9 901.3 L305.4 899.8 L306.9 898.3 L308.4 896.8 L310.0 895.2 L311.5 893.7 L313.0 892.2 L314.5 890.7 L316.0 889.3 L317.6 887.8 L319.1 886.3 L320.6 884.8 L322.1 883.3 L323.6 881.8 L325.2 880.4 L326.7 878.9 L328.2 877.4 L329.7 876.0 L331.2 874.5 L332.8 873.1 L334.3 871.6 L335.8 870.2 L337.3 868.7 L338.8 867.3 L340.4 865.9 L341.9 864.4 L343.4 863.0 L344.9 861.6 L346.4 860.2 L348.0 858.7 L349.5 857.3 L351.0 855.9 L352.5 854.5 L354.0 853.1 L355.6 851.7 L357.1 850.3 L358.6 848.9 L360.1 847.5 L361.6 846.1 L363.2 844.7 L364.7 843.4 L366.2 842.0 L367.7 840.6 L369.2 839.2 L370.8 837.9 L372.3 836.5 L373.8 835.1 L375.3 833.8 L376.8 832.4 L378.4 831.1 L379.9 829.7 L381.4 828.4 L382.9 827.1 L384.4 825.7 L386.0 824.4 L387.5 823.1 L389.0 821.7 L390.5 820.4 L392.0 819.1 L393.6 817.8 L395.1 816.4 L396.6 815.1 L398.1 813.8 L399.6 812.5 L401.2 811.2 L402.7 809.9 L404.2 808.6 L405.7 807.3 L407.2 806.0 L408.8 804.8 L410.3 803.5 L411.8 802.2 L413.3 800.9 L414.8 799.6 L416.4 798.4 L417.9 797.1 L419.4 795.8 L420.9 794.6 L422.4 793.3 L424.0 792.1 L425.5 790.8 L427.0 789.6 L428.5 788.3 L430.0 787.1 L431.6 785.8 L433.1 784.6 L434.6 783.4 L436.1 782.1 L437.6 780.9 L439.2 779.7 L440.7 778.4 L442.2 777.2 L443.7 776.0 L445.2 774.8 L446.8 773.6 L448.3 772.4 L449.8 771.2 L451.3 770.0 L452.8 768.8 L454.4 767.6 L455.9 766.4 L457.4 765.2 L458.9 764.0 L460.4 762.8 L462.0 761.6 L463.5 760.5 L465.0 759.3 L466.5 758.1 L468.0 756.9 L469.6 755.8 L471.1 754.6 L472.6 753.4 L474.1 752.3 L475.6 751.1 L477.2 750.0 L478.7 748.8 L480.2 747.7 L481.7 746.5 L483.2 745.4 L484.8 744.2 L486.3 743.1 L487.8 742.0 L489.3 740.8 L490.8 739.7 L492.4 738.6 L493.9 737.4 L495.4 736.3 L496.9 735.2 L498.4 734.1 L500.0 733.0 L501.5 731.9 L503.0 730.8 L504.5 729.7 L506.0 728.6 L507.6 727.5 L509.1 726.4 L510.6 725.3 L512.1 724.2 L513.6 723.1 L515.2 722.0 L516.7 720.9 L518.2 719.8 L519.7 718.7 L521.2 717.7 L522.8 716.6 L524.3 715.5 L525.8 714.4 L527.3 713.4 L528.8 712.3 L530.4 711.2 L531.9 710.2 L533.4 709.1 L534.9 708.1 L536.4 707.0 L538.0 706.0 L539.5 704.9 L541.0 703.9 L542.5 702.8 L544.0 701.8 L545.6 700.8 L547.1 699.7 L548.6 698.7 L550.1 697.7 L551.6 696.6 L553.2 695.6 L554.7 694.6 L556.2 693.6 L557.7 692.5 L559.2 691.5 L560.8 690.5 L562.3 689.5 L563.8 688.5 L565.3 687.5 L566.8 686.5 L568.4 685.5 L569.9 684.5 L571.4 683.5 L572.9 682.5 L574.4 681.5 L576.0 680.5 L577.5 679.5 L579.0 678.5 L580.5 677.5 L582.0 676.5 L583.6 675.6 L585.1 674.6 L586.6 673.6 L588.1 672.6 L589.6 671.7 L591.2 670.7 L592.7 669.7 L594.2 668.8 L595.7 667.8 L597.2 666.8 L598.8 665.9 L600.3 664.9 L601.8 664.0 L603.3 663.0 L604.8 662.1 L606.4 661.1 L607.9 660.2 L609.4 659.2 L610.9 658.3 L612.4 657.3 L614.0 656.4 L615.5 655.5 L617.0 654.5 L618.5 653.6 L620.0 652.7 L621.6 651.7 L623.1 650.8 L624.6 649.9 L626.1 649.0 L627.6 648.0 L629.2 647.1 L630.7 646.2 L632.2 645.3 L633.7 644.4 L635.2 643.5 L636.8 642.5 L638.3 641.6 L639.8 640.7 L641.3 639.8 L642.8 638.9 L644.4 638.0 L645.9 637.1 L647.4 636.2 L648.9 635.3 L650.4 634.5 L652.0 633.6 L653.5 632.7 L655.0 631.8 L656.5 630.9 L658.1 630.0 L659.6 629.1 L661.1 628.3 L662.6 627.4 L664.1 626.5 L665.7 625.6 L667.2 624.8 L668.7 623.9 L670.2 623.0 L671.7 622.2 L673.3 621.3 L674.8 620.4 L676.3 619.6 L677.8 618.7 L679.3 617.8 L680.9 617.0 L682.4 616.1 L683.9 615.3 L685.4 614.4 L686.9 613.6 L688.5 612.7 L690.0 611.9 L691.5 611.1 L693.0 610.2 L694.5 609.4 L696.1 608.5 L697.6 607.7 L699.1 606.9 L700.6 606.0 L702.1 605.2 L703.7 604.4 L705.2 603.5 L706.7 602.7 L708.2 601.9 L709.7 601.1 L711.3 600.3 L712.8 599.4 L714.3 598.6 L715.8 597.8 L717.3 597.0 L718.9 596.2 L720.4 595.4 L721.9 594.6 L723.4 593.8 L724.9 592.9 L726.5 592.1 L728.0 591.3 L729.5 590.5 L731.0 589.7 L732.5 588.9 L734.1 588.2 L735.6 587.4 L737.1 586.6 L738.6 585.8 L740.1 585.0 L741.7 584.2 L743.2 583.4 L744.7 582.6 L746.2 581.9 L747.7 581.1 L749.3 580.3 L750.8 579.5 L752.3 578.7 L753.8 578.0 L755.3 577.2 L756.9 576.4 L758.4 575.7 L759.9 574.9 L761.4 574.1 L762.9 573.4 L764.5 572.6 L766.0 571.8 L767.5 571.1 L769.0 570.3 L770.5 569.6 L772.1 568.8 L773.6 568.1 L775.1 567.3 L776.6 566.6 L778.1 565.8 L779.7 565.1 L781.2 564.3 L782.7 563.6 L784.2 562.8 L785.7 562.1 L787.3 561.4 L788.8 560.6 L790.3 559.9 L791.8 559.2 L793.3 558.4 L794.9 557.7 L796.4 557.0 L797.9 556.2 L799.4 555.5 L800.9 554.8 L802.5 554.1 L804.0 553.4 L805.5 552.6 L807.0 551.9 L808.5 551.2 L810.1 550.5 L811.6 549.8 L813.1 549.1 L814.6 548.3 L816.1 547.6 L817.7 546.9 L819.2 546.2 L820.7 545.5 L822.2 544.8 L823.7 544.1 L825.3 543.4 L826.8 542.7 L828.3 542.0 L829.8 541.3 L831.3 540.6 L832.9 539.9 L834.4 539.2 L835.9 538.6 L837.4 537.9 L838.9 537.2 L840.5 536.5 L842.0 535.8 L843.5 535.1 L845.0 534.5 L846.5 533.8 L848.1 533.1 L849.6 532.4 L851.1 531.7 L852.6 531.1 L854.1 530.4 L855.7 529.7 L857.2 529.1 L858.7 528.4 L860.2 527.7 L861.7 527.1 L863.3 526.4 L864.8 525.7 L866.3 525.1 L867.8 524.4 L869.3 523.8 L870.9 523.1 L872.4 522.4 L873.9 521.8 L875.4 521.1 L876.9 520.5 L878.5 519.8 L880.0 519.2 L881.5 518.5 L883.0 517.9 L884.5 517.2 L886.1 516.6 L887.6 516.0 L889.1 515.3 L890.6 514.7 L892.1 514.0 L893.7 513.4 L895.2 512.8 L896.7 512.1 L898.2 511.5 L899.7 510.9 L901.3 510.2 L902.8 509.6 L904.3 509.0 L905.8 508.4 L907.3 507.7 L908.9 507.1 L910.4 506.5 L911.9 505.9 L913.4 505.3 L914.9 504.6 L916.5 504.0 L918.0 503.4 L919.5 502.8 L921.0 502.2 L922.5 501.6 L924.1 500.9 L925.6 500.3 L927.1 499.7 L928.6 499.1 L930.1 498.5 L931.7 497.9 L933.2 497.3 L934.7 496.7 L936.2 496.1 L937.7 495.5 L939.3 494.9 L940.8 494.3 L942.3 493.7 L943.8 493.1 L945.3 492.5 L946.9 491.9 L948.4 491.4 L949.9 490.8 L951.4 490.2 L952.9 489.6 L954.5 489.0 L956.0 488.4 L957.5 487.8 L959.0 487.3 L960.5 486.7 L962.1 486.1 L963.6 485.5 L965.1 484.9 L966.6 484.4 L968.1 483.8 L969.7 483.2 L971.2 482.6 L972.7 482.1 L974.2 481.5 L975.7 480.9 L977.3 480.4 L978.8 479.8 L980.3 479.2 L981.8 478.7 L983.3 478.1 L984.9 477.5 L986.4 477.0 L987.9 476.4 L989.4 475.9 L990.9 475.3 L992.5 474.7 L994.0 474.2 L995.5 473.6 L997.0 473.1 L998.5 472.5 L1000.1 472.0 L1001.6 471.4 L1003.1 470.9 L1004.6 470.3 L1006.1 469.8 L1007.7 469.2 L1009.2 468.7 L1010.7 468.1 L1012.2 467.6 L1013.7 467.1 L1015.3 466.5 L1016.8 466.0 L1018.3 465.4 L1019.8 464.9 L1021.3 464.4 L1022.9 463.8 L1024.4 463.3 L1025.9 462.8 L1027.4 462.2 L1028.9 461.7 L1030.5 461.2 L1032.0 460.6 L1033.5 460.1 L1035.0 459.6 L1036.5 459.1 L1038.1 458.5 L1039.6 458.0 L1041.1 457.5 L1042.6 457.0 L1044.1 456.4 L1045.7 455.9 L1047.2 455.4 L1048.7 454.9 L1050.2 454.4 L1051.7 453.9 L1053.3 453.3 L1054.8 452.8 L1056.3 452.3 L1057.8 451.8 L1059.3 451.3 L1060.9 450.8 L1062.4 450.3 L1063.9 449.8 L1065.4 449.3 L1066.9 448.8 L1068.5 448.3 L1070.0 447.7 L1071.5 447.2 L1073.0 446.7 L1074.5 446.2 L1076.1 445.7 L1077.6 445.2 L1079.1 444.7 L1080.6 444.2 L1082.1 443.7 L1083.7 443.3 L1085.2 442.8 L1086.7 442.3 L1088.2 441.8 L1089.7 441.3 L1091.3 440.8 L1092.8 440.3 L1094.3 439.8 L1095.8 439.3 L1097.3 438.8 L1098.9 438.3 L1100.4 437.9 L1101.9 437.4 L1103.4 436.9 L1104.9 436.4 L1106.5 435.9 L1108.0 435.4 L1109.5 435.0 L1111.0 434.5 L1112.5 434.0 L1114.1 433.5 L1115.6 433.1 L1117.1 432.6 L1118.6 432.1 L1120.1 431.6 L1121.7 431.2 L1123.2 430.7 L1124.7 430.2 L1126.2 429.7 L1127.7 429.3 L1129.3 428.8 L1130.8 428.3 L1132.3 427.9 L1133.8 427.4 L1135.3 426.9 L1136.9 426.5 L1138.4 426.0 L1139.9 425.5 L1141.4 425.1 L1142.9 424.6 L1144.5 424.1 L1146.0 423.7 L1147.5 423.2 L1149.0 422.8 L1150.5 422.3 L1152.1 421.8 L1153.6 421.4 L1155.1 420.9 L1156.6 420.5 L1158.1 420.0 L1159.7 419.6 L1161.2 419.1 L1162.7 418.7 L1164.2 418.2 L1165.7 417.8 L1167.3 417.3 L1168.8 416.9 L1170.3 416.4 L1171.8 416.0 L1173.3 415.5 L1174.9 415.1 L1176.4 414.6 L1177.9 414.2 L1179.4 413.7 L1180.9 413.3 L1182.5 412.9 L1184.0 412.4 L1185.5 412.0"/>
<path d="M206.2 1496.1 L207.6 1493.4 L209.0 1490.7 L210.5 1488.0 L211.9 1485.3 L213.3 1482.6 L214.7 1480.0 L216.2 1477.3 L217.6 1474.6 L219.0 1472.0 L220.4 1469.3 L221.9 1466.7 L223.3 1464.0 L224.7 1461.4 L226.1 1458.8 L227.6 1456.2 L229.0 1453.5 L230.4 1450.9 L231.8 1448.3 L233.3 1445.8 L234.7 1443.2 L236.1 1440.6 L237.5 1438.0 L238.9 1435.5 L240.4 1432.9 L241.8 1430.4 L243.2 1427.8 L244.6 1425.3 L246.1 1422.8 L247.5 1420.3 L248.9 1417.7 L250.3 1415.2 L251.8 1412.7 L253.2 1410.2 L254.6 1407.8 L256.0 1405.3 L257.5 1402.8 L258.9 1400.3 L260.3 1397.9 L261.7 1395.4 L263.1 1393.0 L264.6 1390.5 L266.0 1388.1 L267.4 1385.7 L268.8 1383.3 L270.3 1380.8 L271.7 1378.4 L273.1 1376.0 L274.5 1373.6 L276.0 1371.2 L277.4 1368.9 L278.8 1366.5 L280.2 1364.1 L281.7 1361.8 L283.1 1359.4 L284.5 1357.0 L285.9 1354.7 L287.4 1352.4 L288.8 1350.0 L290.2 1347.7 L291.6 1345.4 L293.0 1343.1 L294.5 1340.8 L295.9 1338.5 L297.3 1336.2 L298.7 1333.9 L300.2 1331.6 L301.6 1329.3 L303.0 1327.1 L304.4 1324.8 L305.9 1322.5 L307.3 1320.3 L308.7 1318.0 L310.1 1315.8 L311.6 1313.6 L313.0 1311.3 L314.4 1309.1 L315.8 1306.9 L317.3 1304.7 L318.7 1302.5 L320.1 1300.3 L321.5 1298.1 L322.9 1295.9 L324.4 1293.7 L325.8 1291.6 L327.2 1289.4 L328.6 1287.2 L330.1 1285.1 L331.5 1282.9 L332.9 1280.8 L334.3 1278.6 L335.8 1276.5 L337.2 1274.4 L338.6 1272.2 L340.0 1270.1 L341.5 1268.0 L342.9 1265.9 L344.3 1263.8 L345.7 1261.7 L347.2 1259.6 L348.6 1257.5 L350.0 1255.5 L351.4 1253.4 L352.8 1251.3 L354.3 1249.3 L355.7 1247.2 L357.1 1245.1 L358.5 1243.1 L360.0 1241.1 L361.4 1239.0 L362.8 1237.0 L364.2 1235.0 L365.7 1233.0 L367.1 1230.9 L368.5 1228.9 L369.9 1226.9 L371.4 1224.9 L372.8 1222.9 L374.2 1220.9 L375.6 1219.0 L377.0 1217.0 L378.5 1215.0 L379.9 1213.0 L381.3 1211.1 L382.7 1209.1 L384.2 1207.2 L385.6 1205.2 L387.0 1203.3 L388.4 1201.4 L389.9 1199.4 L391.3 1197.5 L392.7 1195.6 L394.1 1193.7 L395.6 1191.7 L397.0 1189.8 L398.4 1187.9 L399.8 1186.0 L401.3 1184.1 L402.7 1182.3 L404.1 1180.4 L405.5 1178.5 L406.9 1176.6 L408.4 1174.7 L409.8 1172.9 L411.2 1171.0 L412.6 1169.2 L414.1 1167.3 L415.5 1165.5 L416.9 1163.6 L418.3 1161.8 L419.8 1159.9 L421.2 1158.1 L422.6 1156.3 L424.0 1154.5 L425.5 1152.6 L426.9 1150.8 L428.3 1149.0 L429.7 1147.2 L431.2 1145.4 L432.6 1143.6 L434.0 1141.8 L435.4 1140.0 L436.8 1138.2 L438.3 1136.5 L439.7 1134.7 L441.1 1132.9 L442.5 1131.1 L444.0 1129.4 L445.4 1127.6 L446.8 1125.8 L448.2 1124.1 L449.7 1122.3 L451.1 1120.6 L452.5 1118.9 L453.9 1117.1 L455.4 1115.4 L456.8 1113.6 L458.2 1111.9 L459.6 1110.2 L461.1 1108.5 L462.5 1106.7 L463.9 1105.0 L465.3 1103.3 L466.7 1101.6 L468.2 1099.9 L469.6 1098.2 L471.0 1096.5 L472.4 1094.8 L473.9 1093.1 L475.3 1091.4 L476.7 1089.7 L478.1 1088.1 L479.6 1086.4 L481.0 1084.7 L482.4 1083.0 L483.8 1081.4 L485.3 1079.7 L486.7 1078.0 L488.1 1076.4 L489.5 1074.7 L490.9 1073.0 L492.4 1071.4 L493.8 1069.7 L495.2 1068.1 L496.6 1066.5 L498.1 1064.8 L499.5 1063.2 L500.9 1061.5 L502.3 1059.9 L503.8 1058.3 L505.2 1056.6 L506.6 1055.0 L508.0 1053.4 L509.5 1051.8 L510.9 1050.1 L512.3 1048.5 L513.7 1046.9 L515.2 1045.3 M536.5 1021.4 L537.9 1019.8 L539.4 1018.3 L540.8 1016.7 L542.2 1015.1 L543.6 1013.5 L545.1 1012.0 L546.5 1010.4 L547.9 1008.8 L549.3 1007.3 L550.7 1005.7 L552.2 1004.2 L553.6 1002.6 L555.0 1001.1 L556.4 999.5 L557.9 998.0 L559.3 996.4 L560.7 994.9 L562.1 993.3 L563.6 991.8 L565.0 990.2 L566.4 988.7 L567.8 987.2 L569.3 985.6 L570.7 984.1 L572.1 982.6 L573.5 981.0 L575.0 979.5 L576.4 978.0 L577.8 976.5 L579.2 974.9 L580.6 973.4 L582.1 971.9 L583.5 970.4 L584.9 968.9 L586.3 967.4 L587.8 965.9 L589.2 964.3 L590.6 962.8 L592.0 961.3 L593.5 959.8 L594.9 958.3 L596.3 956.8 L597.7 955.3 L599.2 953.8 L600.6 952.4 L602.0 950.9 L603.4 949.4 L604.8 947.9 L606.3 946.4 L607.7 944.9 L609.1 943.4 L610.5 942.0 L612.0 940.5 L613.4 939.0 L614.8 937.5 L616.2 936.1 L617.7 934.6 L619.1 933.1 L620.5 931.7 L621.9 930.2 L623.4 928.7 L624.8 927.3 L626.2 925.8 L627.6 924.4 L629.1 922.9 L630.5 921.4 L631.9 920.0 L633.3 918.5 L634.7 917.1 L636.2 915.6 L637.6 914.2 L639.0 912.8 L640.4 911.3 L641.9 909.9 L643.3 908.4 L644.7 907.0 L646.1 905.6 L647.6 904.2 L649.0 902.7 L650.4 901.3 L651.8 899.9 L653.3 898.4 L654.7 897.0 L656.1 895.6 L657.5 894.2 L659.0 892.8 L660.4 891.4 L661.8 889.9 L663.2 888.5 L664.6 887.1 L666.1 885.7 L667.5 884.3 L668.9 882.9 L670.3 881.5 L671.8 880.1 L673.2 878.7 L674.6 877.3 L676.0 875.9 L677.5 874.5 L678.9 873.1 L680.3 871.7 L681.7 870.4 L683.2 869.0 L684.6 867.6 L686.0 866.2 L687.4 864.8 L688.9 863.4 L690.3 862.1 L691.7 860.7 L693.1 859.3 L694.5 858.0 L696.0 856.6 L697.4 855.2 L698.8 853.9 L700.2 852.5 L701.7 851.1 L703.1 849.8 L704.5 848.4 L705.9 847.1 L707.4 845.7 L708.8 844.3 L710.2 843.0 L711.6 841.6 L713.1 840.3 L714.5 838.9 L715.9 837.6 L717.3 836.3 L718.7 834.9 L720.2 833.6 L721.6 832.2 L723.0 830.9 L724.4 829.6 L725.9 828.2 L727.3 826.9 L728.7 825.6 L730.1 824.3 L731.6 822.9 L733.0 821.6 L734.4 820.3 L735.8 819.0 L737.3 817.6 L738.7 816.3 L740.1 815.0 L741.5 813.7 L743.0 812.4 L744.4 811.1 L745.8 809.8 L747.2 808.5 L748.6 807.2 L750.1 805.9 L751.5 804.6 L752.9 803.3 L754.3 802.0 L755.8 800.7 L757.2 799.4 L758.6 798.1 L760.0 796.8 L761.5 795.5 L762.9 794.2 L764.3 792.9 L765.7 791.7 L767.2 790.4 L768.6 789.1 L770.0 787.8 L771.4 786.5 L772.9 785.3 L774.3 784.0 L775.7 782.7 L777.1 781.4 L778.5 780.2 L780.0 778.9 L781.4 777.6 L782.8 776.4 L784.2 775.1 L785.7 773.9 L787.1 772.6 L788.5 771.4 L789.9 770.1 L791.4 768.8 L792.8 767.6 L794.2 766.3 L795.6 765.1 L797.1 763.8 L798.5 762.6 L799.9 761.4 L801.3 760.1 L802.8 758.9 L804.2 757.6 L805.6 756.4 L807.0 755.2 L808.4 753.9 L809.9 752.7 L811.3 751.5 L812.7 750.3 L814.1 749.0 L815.6 747.8 L817.0 746.6 L818.4 745.4 L819.8 744.1 L821.3 742.9 L822.7 741.7 L824.1 740.5 L825.5 739.3 L827.0 738.1 L828.4 736.9 L829.8 735.7 L831.2 734.4 L832.6 733.2 L834.1 732.0 L835.5 730.8 L836.9 729.6 L838.3 728.4 L839.8 727.2 L841.2 726.0 L842.6 724.9 L844.0 723.7 L845.5 722.5 L846.9 721.3 L848.3 720.1 L849.7 718.9 L851.2 717.7 L852.6 716.5 L854.0 715.4 L855.4 714.2 L856.9 713.0 L858.3 711.8 L859.7 710.7 L861.1 709.5 L862.5 708.3 L864.0 707.2 L865.4 706.0 L866.8 704.8 L868.2 703.7 L869.7 702.5 L871.1 701.3 L872.5 700.2 L873.9 699.0 L875.4 697.9 L876.8 696.7 L878.2 695.6 L879.6 694.4 L881.1 693.3 L882.5 692.1 L883.9 691.0 L885.3 689.8 L886.8 688.7 L888.2 687.5 L889.6 686.4 L891.0 685.3 L892.4 684.1 L893.9 683.0 L895.3 681.8 L896.7 680.7 L898.1 679.6 L899.6 678.5 L901.0 677.3 L902.4 676.2 L903.8 675.1 L905.3 674.0 L906.7 672.8 L908.1 671.7 L909.5 670.6 L911.0 669.5 L912.4 668.4 L913.8 667.3 L915.2 666.1 L916.7 665.0 L918.1 663.9 L919.5 662.8 L920.9 661.7 L922.3 660.6 L923.8 659.5 L925.2 658.4 L926.6 657.3 L928.0 656.2 L929.5 655.1 L930.9 654.0 L932.3 652.9 L933.7 651.8 L935.2 650.7 L936.6 649.7 L938.0 648.6 L939.4 647.5 L940.9 646.4 L942.3 645.3 L943.7 644.2 L945.1 643.2 L946.5 642.1 L948.0 641.0 L949.4 639.9 L950.8 638.8 L952.2 637.8 L953.7 636.7 L955.1 635.6 L956.5 634.6 L957.9 633.5 L959.4 632.4 L960.8 631.4 L962.2 630.3 L963.6 629.3 L965.1 628.2 L966.5 627.1 L967.9 626.1 L969.3 625.0 L970.8 624.0 L972.2 622.9 L973.6 621.9 L975.0 620.8 L976.4 619.8 L977.9 618.7 L979.3 617.7 L980.7 616.7 L982.1 615.6 L983.6 614.6 L985.0 613.5 L986.4 612.5 L987.8 611.5 L989.3 610.4 L990.7 609.4 L992.1 608.4 L993.5 607.3 L995.0 606.3 L996.4 605.3 L997.8 604.3 L999.2 603.2 L1000.7 602.2 L1002.1 601.2 L1003.5 600.2 L1004.9 599.2 L1006.3 598.2 L1007.8 597.1 L1009.2 596.1 L1010.6 595.1 L1012.0 594.1 L1013.5 593.1 L1014.9 592.1 L1016.3 591.1 L1017.7 590.1 L1019.2 589.1 L1020.6 588.1 L1022.0 587.1 L1023.4 586.1 L1024.9 585.1 L1026.3 584.1 L1027.7 583.1 L1029.1 582.1 L1030.6 581.1 L1032.0 580.1 L1033.4 579.1 L1034.8 578.2 L1036.2 577.2 L1037.7 576.2 L1039.1 575.2 L1040.5 574.2 L1041.9 573.2 L1043.4 572.3 L1044.8 571.3 L1046.2 570.3 L1047.6 569.3 L1049.1 568.4 L1050.5 567.4 L1051.9 566.4 L1053.3 565.5 L1054.8 564.5 L1056.2 563.5 L1057.6 562.6 L1059.0 561.6 L1060.4 560.6 L1061.9 559.7 L1063.3 558.7 L1064.7 557.8 L1066.1 556.8 L1067.6 555.9 L1069.0 554.9 L1070.4 554.0 L1071.8 553.0 L1073.3 552.1 L1074.7 551.1 L1076.1 550.2 L1077.5 549.2 L1079.0 548.3 L1080.4 547.3 L1081.8 546.4 L1083.2 545.5 L1084.7 544.5 L1086.1 543.6 L1087.5 542.6 L1088.9 541.7 L1090.3 540.8 L1091.8 539.9 L1093.2 538.9 L1094.6 538.0 L1096.0 537.1 L1097.5 536.1 L1098.9 535.2 L1100.3 534.3 L1101.7 533.4 L1103.2 532.5 L1104.6 531.5 L1106.0 530.6 L1107.4 529.7 L1108.9 528.8 L1110.3 527.9 L1111.7 527.0 L1113.1 526.1 L1114.6 525.1 L1116.0 524.2 L1117.4 523.3 L1118.8 522.4 L1120.2 521.5 L1121.7 520.6 L1123.1 519.7 L1124.5 518.8 L1125.9 517.9 L1127.4 517.0 L1128.8 516.1 L1130.2 515.2 L1131.6 514.3 L1133.1 513.5 L1134.5 512.6 L1135.9 511.7 L1137.3 510.8 L1138.8 509.9 L1140.2 509.0 L1141.6 508.1 L1143.0 507.2 L1144.5 506.4 L1145.9 505.5 L1147.3 504.6 L1148.7 503.7 L1150.1 502.9 L1151.6 502.0 L1153.0 501.1 L1154.4 500.2 L1155.8 499.4 L1157.3 498.5 L1158.7 497.6 L1160.1 496.8 L1161.5 495.9 L1163.0 495.0 L1164.4 494.2 L1165.8 493.3 L1167.2 492.4 L1168.7 491.6 L1170.1 490.7 L1171.5 489.9 L1172.9 489.0 L1174.3 488.2 L1175.8 487.3 L1177.2 486.5 L1178.6 485.6 L1180.0 484.8 L1181.5 483.9 L1182.9 483.1 L1184.3 482.2 L1185.7 481.4 L1187.2 480.5 L1188.6 479.7 L1190.0 478.9 L1191.4 478.0 L1192.9 477.2 L1194.3 476.3 L1195.7 475.5 L1197.1 474.7 L1198.6 473.8 L1200.0 473.0 L1201.4 472.2"/>
<path d="M279.8 1496.6 L281.1 1494.2 L282.4 1491.8 L283.8 1489.4 L285.1 1487.0 L286.4 1484.6 L287.7 1482.2 L289.0 1479.9 L290.3 1477.5 L291.7 1475.1 L293.0 1472.7 L294.3 1470.4 L295.6 1468.0 L296.9 1465.7 L298.3 1463.3 L299.6 1461.0 L300.9 1458.6 L302.2 1456.3 L303.5 1454.0 L304.9 1451.7 L306.2 1449.3 L307.5 1447.0 L308.8 1444.7 L310.1 1442.4 L311.4 1440.1 L312.8 1437.8 L314.1 1435.5 L315.4 1433.2 L316.7 1430.9 L318.0 1428.7 L319.4 1426.4 L320.7 1424.1 L322.0 1421.9 L323.3 1419.6 L324.6 1417.4 L325.9 1415.1 L327.3 1412.9 L328.6 1410.6 L329.9 1408.4 L331.2 1406.1 L332.5 1403.9 L333.9 1401.7 L335.2 1399.5 L336.5 1397.3 L337.8 1395.1 L339.1 1392.9 L340.4 1390.7 L341.8 1388.5 L343.1 1386.3 L344.4 1384.1 L345.7 1381.9 L347.0 1379.7 L348.4 1377.5 L349.7 1375.4 L351.0 1373.2 L352.3 1371.1 L353.6 1368.9 L355.0 1366.7 L356.3 1364.6 L357.6 1362.5 L358.9 1360.3 L360.2 1358.2 L361.5 1356.1 L362.9 1353.9 L364.2 1351.8 L365.5 1349.7 L366.8 1347.6 L368.1 1345.5 L369.5 1343.4 L370.8 1341.3 L372.1 1339.2 L373.4 1337.1 L374.7 1335.0 L376.0 1332.9 L377.4 1330.8 L378.7 1328.8 L380.0 1326.7 L381.3 1324.6 L382.6 1322.6 L384.0 1320.5 L385.3 1318.5 L386.6 1316.4 L387.9 1314.4 L389.2 1312.3 L390.6 1310.3 L391.9 1308.3 L393.2 1306.2 L394.5 1304.2 L395.8 1302.2 L397.1 1300.2 L398.5 1298.2 L399.8 1296.2 L401.1 1294.2 L402.4 1292.2 L403.7 1290.2 L405.1 1288.2 L406.4 1286.2 L407.7 1284.2 L409.0 1282.2 L410.3 1280.3 L411.6 1278.3 L413.0 1276.3 L414.3 1274.4 L415.6 1272.4 L416.9 1270.5 L418.2 1268.5 L419.6 1266.6 L420.9 1264.6 L422.2 1262.7 L423.5 1260.7 L424.8 1258.8 L426.1 1256.9 L427.5 1255.0 L428.8 1253.1 L430.1 1251.1 L431.4 1249.2 L432.7 1247.3 L434.1 1245.4 L435.4 1243.5 L436.7 1241.6 L438.0 1239.7 L439.3 1237.8 L440.7 1236.0 L442.0 1234.1 L443.3 1232.2 L444.6 1230.3 L445.9 1228.5 L447.2 1226.6 L448.6 1224.7 L449.9 1222.9 L451.2 1221.0 L452.5 1219.2 L453.8 1217.3 L455.2 1215.5 L456.5 1213.7 L457.8 1211.8 L459.1 1210.0 L460.4 1208.2 L461.7 1206.4 L463.1 1204.5 L464.4 1202.7 L465.7 1200.9 L467.0 1199.1 L468.3 1197.3 L469.7 1195.5 L471.0 1193.7 L472.3 1191.9 L473.6 1190.1 L474.9 1188.3 L476.2 1186.6 L477.6 1184.8 L478.9 1183.0 L480.2 1181.2 L481.5 1179.5 L482.8 1177.7 L484.2 1175.9 L485.5 1174.2 L486.8 1172.4 L488.1 1170.7 L489.4 1168.9 L490.8 1167.2 L492.1 1165.4 L493.4 1163.7 L494.7 1162.0 L496.0 1160.2 L497.3 1158.5 L498.7 1156.8 L500.0 1155.1 L501.3 1153.4 L502.6 1151.7 L503.9 1149.9 L505.3 1148.2 L506.6 1146.5 L507.9 1144.8 L509.2 1143.1 L510.5 1141.5 L511.8 1139.8 L513.2 1138.1 L514.5 1136.4 L515.8 1134.7 L517.1 1133.1 L518.4 1131.4 L519.8 1129.7 L521.1 1128.1 L522.4 1126.4 L523.7 1124.7 L525.0 1123.1 L526.4 1121.4 L527.7 1119.8 L529.0 1118.1 L530.3 1116.5 L531.6 1114.9 L532.9 1113.2 L534.3 1111.6 L535.6 1110.0 L536.9 1108.3 L538.2 1106.7 L539.5 1105.1 L540.9 1103.5 L542.2 1101.9 L543.5 1100.3 L544.8 1098.7 L546.1 1097.1 L547.4 1095.5 L548.8 1093.9 L550.1 1092.3 L551.4 1090.7 L552.7 1089.1 L554.0 1087.5 L555.4 1085.9 L556.7 1084.4 L558.0 1082.8 L559.3 1081.2 L560.6 1079.6 L561.9 1078.1 L563.3 1076.5 L564.6 1075.0 L565.9 1073.4 L567.2 1071.8 L568.5 1070.3 L569.9 1068.7 L571.2 1067.2 L572.5 1065.7 L573.8 1064.1 L575.1 1062.6 L576.5 1061.1 L577.8 1059.5 L579.1 1058.0 L580.4 1056.5 L581.7 1055.0 L583.0 1053.4 L584.4 1051.9 L585.7 1050.4 L587.0 1048.9 L588.3 1047.4 L589.6 1045.9 L591.0 1044.4 L592.3 1042.9 L593.6 1041.4 L594.9 1039.9 L596.2 1038.4 L597.5 1037.0 L598.9 1035.5 L600.2 1034.0 L601.5 1032.5 L602.8 1031.0 L604.1 1029.6 L605.5 1028.1 L606.8 1026.6 L608.1 1025.2 L609.4 1023.7 L610.7 1022.3 L612.1 1020.8 L613.4 1019.3 L614.7 1017.9 L616.0 1016.5 L617.3 1015.0 L618.6 1013.6 L620.0 1012.1 L621.3 1010.7 L622.6 1009.3 L623.9 1007.8 L625.2 1006.4 L626.6 1005.0 L627.9 1003.6 L629.2 1002.1 L630.5 1000.7 L631.8 999.3 L633.1 997.9 L634.5 996.5 L635.8 995.1 L637.1 993.7 L638.4 992.3 L639.7 990.9 L641.1 989.5 L642.4 988.1 L643.7 986.7 L645.0 985.3 L646.3 983.9 L647.6 982.5 L649.0 981.2 L650.3 979.8 L651.6 978.4 L652.9 977.0 L654.2 975.7 L655.6 974.3 L656.9 972.9 L658.2 971.6 L659.5 970.2 L660.8 968.8 L662.2 967.5 L663.5 966.1 L664.8 964.8 L666.1 963.4 L667.4 962.1 L668.7 960.7 L670.1 959.4 L671.4 958.1 L672.7 956.7 L674.0 955.4 L675.3 954.1 L676.7 952.7 L678.0 951.4 L679.3 950.1 L680.6 948.8 L681.9 947.4 L683.2 946.1 L684.6 944.8 L685.9 943.5 L687.2 942.2 L688.5 940.9 L689.8 939.6 L691.2 938.2 L692.5 936.9 L693.8 935.6 L695.1 934.3 L696.4 933.1 L697.8 931.8 L699.1 930.5 L700.4 929.2 L701.7 927.9 L703.0 926.6 L704.3 925.3 L705.7 924.0 L707.0 922.8 L708.3 921.5 L709.6 920.2 L710.9 918.9 L712.3 917.7 L713.6 916.4 L714.9 915.1 L716.2 913.9 L717.5 912.6 L718.8 911.3 L720.2 910.1 L721.5 908.8 L722.8 907.6 L724.1 906.3 L725.4 905.1 L726.8 903.8 L728.1 902.6 L729.4 901.3 L730.7 900.1 L732.0 898.9 L733.3 897.6 L734.7 896.4 L736.0 895.2 L737.3 893.9 L738.6 892.7 L739.9 891.5 L741.3 890.2 L742.6 889.0 L743.9 887.8 L745.2 886.6 L746.5 885.4 L747.9 884.1 L749.2 882.9 L750.5 881.7 L751.8 880.5 L753.1 879.3 L754.4 878.1 L755.8 876.9 L757.1 875.7 L758.4 874.5 L759.7 873.3 L761.0 872.1 L762.4 870.9 L763.7 869.7 L765.0 868.5 L766.3 867.3 L767.6 866.1 L768.9 864.9 L770.3 863.7 L771.6 862.6 L772.9 861.4 L774.2 860.2 L775.5 859.0 L776.9 857.9 L778.2 856.7 L779.5 855.5 L780.8 854.3 L782.1 853.2 L783.4 852.0 L784.8 850.8 L786.1 849.7 L787.4 848.5 L788.7 847.4 L790.0 846.2 L791.4 845.0 L792.7 843.9 L794.0 842.7 L795.3 841.6 L796.6 840.4 L798.0 839.3 L799.3 838.2 L800.6 837.0 L801.9 835.9 L803.2 834.7 L804.5 833.6 L805.9 832.5 L807.2 831.3 L808.5 830.2 L809.8 829.1 L811.1 827.9 L812.5 826.8 L813.8 825.7 L815.1 824.6 L816.4 823.4 L817.7 822.3 L819.0 821.2 L820.4 820.1 L821.7 819.0 L823.0 817.8 L824.3 816.7 L825.6 815.6 L827.0 814.5 L828.3 813.4 L829.6 812.3 L830.9 811.2 L832.2 810.1 L833.6 809.0 L834.9 807.9 L836.2 806.8 L837.5 805.7 L838.8 804.6 L840.1 803.5 L841.5 802.4 L842.8 801.4 L844.1 800.3 L845.4 799.2 L846.7 798.1 L848.1 797.0 L849.4 795.9 L850.7 794.9 L852.0 793.8 L853.3 792.7 L854.6 791.6 L856.0 790.6 L857.3 789.5 L858.6 788.4 L859.9 787.4 L861.2 786.3 L862.6 785.2 L863.9 784.2 L865.2 783.1 L866.5 782.0 L867.8 781.0 L869.1 779.9 L870.5 778.9 L871.8 777.8 L873.1 776.8 L874.4 775.7 L875.7 774.7 L877.1 773.6 L878.4 772.6 L879.7 771.5 L881.0 770.5 L882.3 769.5 L883.7 768.4 L885.0 767.4 L886.3 766.4 L887.6 765.3 L888.9 764.3 L890.2 763.3 L891.6 762.2 L892.9 761.2 L894.2 760.2 L895.5 759.1 L896.8 758.1 L898.2 757.1 L899.5 756.1 L900.8 755.1 L902.1 754.0 L903.4 753.0 L904.7 752.0 L906.1 751.0 L907.4 750.0 L908.7 749.0 L910.0 748.0 L911.3 747.0 L912.7 746.0 L914.0 745.0 L915.3 744.0 L916.6 743.0 L917.9 742.0 L919.3 741.0 L920.6 740.0 L921.9 739.0 L923.2 738.0 L924.5 737.0 L925.8 736.0 L927.2 735.0 L928.5 734.0 L929.8 733.0 L931.1 732.0 L932.4 731.1 L933.8 730.1 L935.1 729.1 L936.4 728.1 L937.7 727.1 L939.0 726.2 L940.3 725.2 L941.7 724.2 L943.0 723.2 L944.3 722.3 L945.6 721.3 L946.9 720.3 L948.3 719.4 L949.6 718.4 L950.9 717.4 L952.2 716.5 L953.5 715.5 L954.8 714.5 L956.2 713.6 L957.5 712.6 L958.8 711.7 L960.1 710.7 L961.4 709.8 L962.8 708.8 L964.1 707.9 L965.4 706.9 L966.7 706.0 L968.0 705.0 L969.4 704.1 L970.7 703.1 L972.0 702.2 L973.3 701.2 L974.6 700.3 L975.9 699.4 L977.3 698.4 L978.6 697.5 L979.9 696.6 L981.2 695.6 L982.5 694.7 L983.9 693.8 L985.2 692.8 L986.5 691.9 L987.8 691.0 L989.1 690.0 L990.4 689.1 L991.8 688.2 L993.1 687.3 L994.4 686.4 L995.7 685.4 L997.0 684.5 L998.4 683.6 L999.7 682.7 L1001.0 681.8 L1002.3 680.9 L1003.6 679.9 L1005.0 679.0 L1006.3 678.1 L1007.6 677.2 L1008.9 676.3 L1010.2 675.4 L1011.5 674.5 L1012.9 673.6 L1014.2 672.7 L1015.5 671.8 L1016.8 670.9 L1018.1 670.0 L1019.5 669.1 L1020.8 668.2 L1022.1 667.3 L1023.4 666.4 L1024.7 665.5 L1026.0 664.6 L1027.4 663.7 L1028.7 662.8 L1030.0 661.9 L1031.3 661.0 L1032.6 660.2 L1034.0 659.3 L1035.3 658.4 L1036.6 657.5 L1037.9 656.6 L1039.2 655.7 L1040.5 654.9 L1041.9 654.0 L1043.2 653.1 L1044.5 652.2 L1045.8 651.4 L1047.1 650.5 L1048.5 649.6 L1049.8 648.7 L1051.1 647.9 L1052.4 647.0 L1053.7 646.1 L1055.1 645.3 L1056.4 644.4 L1057.7 643.5 L1059.0 642.7 L1060.3 641.8 L1061.6 640.9 L1063.0 640.1 L1064.3 639.2 L1065.6 638.4 L1066.9 637.5 L1068.2 636.6 L1069.6 635.8 L1070.9 634.9 L1072.2 634.1 L1073.5 633.2 L1074.8 632.4 L1076.1 631.5 L1077.5 630.7 L1078.8 629.8 L1080.1 629.0 L1081.4 628.1 L1082.7 627.3 L1084.1 626.4 L1085.4 625.6 L1086.7 624.7 L1088.0 623.9 L1089.3 623.1 L1090.6 622.2 L1092.0 621.4 L1093.3 620.5 L1094.6 619.7 L1095.9 618.9 L1097.2 618.0 L1098.6 617.2 L1099.9 616.4 L1101.2 615.5 L1102.5 614.7 L1103.8 613.9 L1105.2 613.0 L1106.5 612.2 L1107.8 611.4 L1109.1 610.6 L1110.4 609.7 L1111.7 608.9 L1113.1 608.1 L1114.4 607.3 L1115.7 606.4 L1117.0 605.6 L1118.3 604.8 L1119.7 604.0 L1121.0 603.2 L1122.3 602.3 L1123.6 601.5 L1124.9 600.7 L1126.2 599.9 L1127.6 599.1 L1128.9 598.3 L1130.2 597.5 L1131.5 596.7 L1132.8 595.8 L1134.2 595.0 L1135.5 594.2 L1136.8 593.4 L1138.1 592.6 L1139.4 591.8 L1140.8 591.0 L1142.1 590.2 L1143.4 589.4 L1144.7 588.6 L1146.0 587.8 L1147.3 587.0 L1148.7 586.2 L1150.0 585.4 L1151.3 584.6 L1152.6 583.8 L1153.9 583.0 L1155.3 582.2 L1156.6 581.4 L1157.9 580.6 L1159.2 579.8 L1160.5 579.0 L1161.8 578.2 L1163.2 577.4 L1164.5 576.6 L1165.8 575.9 L1167.1 575.1 L1168.4 574.3 L1169.8 573.5 L1171.1 572.7 L1172.4 571.9 L1173.7 571.1 L1175.0 570.3 L1176.3 569.6 L1177.7 568.8 L1179.0 568.0 L1180.3 567.2 L1181.6 566.4 L1182.9 565.7 L1184.3 564.9 L1185.6 564.1 L1186.9 563.3 L1188.2 562.5 L1189.5 561.8 L1190.9 561.0 L1192.2 560.2 L1193.5 559.4 L1194.8 558.7 L1196.1 557.9 L1197.4 557.1 L1198.8 556.4 L1200.1 555.6 L1201.4 554.8"/>
<path d="M534.3 1497.3 L535.3 1495.8 L536.2 1494.2 L537.2 1492.7 L538.1 1491.2 L539.1 1489.6 L540.0 1488.1 L541.0 1486.5 L541.9 1485.0 L542.9 1483.5 L543.8 1482.0 L544.8 1480.4 L545.7 1478.9 L546.7 1477.4 L547.6 1475.8 L548.6 1474.3 L549.6 1472.8 L550.5 1471.3 L551.5 1469.8 L552.4 1468.3 L553.4 1466.8 L554.3 1465.2 L555.3 1463.7 L556.2 1462.2 L557.2 1460.7 L558.1 1459.2 L559.1 1457.7 L560.0 1456.2 L561.0 1454.7 L561.9 1453.2 L562.9 1451.7 L563.8 1450.3 L564.8 1448.8 L565.8 1447.3 L566.7 1445.8 L567.7 1444.3 L568.6 1442.8 L569.6 1441.3 L570.5 1439.9 L571.5 1438.4 L572.4 1436.9 L573.4 1435.4 L574.3 1434.0 L575.3 1432.5 L576.2 1431.0 L577.2 1429.6 L578.1 1428.1 L579.1 1426.6 L580.1 1425.2 L581.0 1423.7 L582.0 1422.3 L582.9 1420.8 L583.9 1419.4 L584.8 1417.9 L585.8 1416.5 L586.7 1415.0 L587.7 1413.6 L588.6 1412.1 L589.6 1410.7 L590.5 1409.2 L591.5 1407.8 L592.4 1406.4 L593.4 1404.9 L594.4 1403.5 L595.3 1402.0 L596.3 1400.6 L597.2 1399.2 L598.2 1397.8 L599.1 1396.3 L600.1 1394.9 L601.0 1393.5 L602.0 1392.1 L602.9 1390.6 L603.9 1389.2 L604.8 1387.8 L605.8 1386.4 L606.7 1385.0 L607.7 1383.6 L608.7 1382.2 L609.6 1380.8 L610.6 1379.4 L611.5 1378.0 L612.5 1376.5 L613.4 1375.1 L614.4 1373.7 L615.3 1372.3 L616.3 1371.0 L617.2 1369.6 L618.2 1368.2 L619.1 1366.8 L620.1 1365.4 L621.0 1364.0 L622.0 1362.6 L622.9 1361.2 L623.9 1359.8 L624.9 1358.5 L625.8 1357.1 L626.8 1355.7 L627.7 1354.3 L628.7 1353.0 L629.6 1351.6 L630.6 1350.2 L631.5 1348.8 L632.5 1347.5 L633.4 1346.1 L634.4 1344.7 L635.3 1343.4 L636.3 1342.0 L637.2 1340.6 L638.2 1339.3 L639.2 1337.9 L640.1 1336.6 L641.1 1335.2 L642.0 1333.9 L643.0 1332.5 L643.9 1331.2 L644.9 1329.8 L645.8 1328.5 L646.8 1327.1 L647.7 1325.8 L648.7 1324.4 L649.6 1323.1 L650.6 1321.7 L651.5 1320.4 L652.5 1319.1 L653.5 1317.7 L654.4 1316.4 L655.4 1315.1 L656.3 1313.7 L657.3 1312.4 L658.2 1311.1 L659.2 1309.8 L660.1 1308.4 L661.1 1307.1 L662.0 1305.8 L663.0 1304.5 L663.9 1303.1 L664.9 1301.8 L665.8 1300.5 L666.8 1299.2 L667.8 1297.9 L668.7 1296.6 L669.7 1295.3 L670.6 1293.9 L671.6 1292.6 L672.5 1291.3 L673.5 1290.0 L674.4 1288.7 L675.4 1287.4 L676.3 1286.1 L677.3 1284.8 L678.2 1283.5 L679.2 1282.2 L680.1 1280.9 L681.1 1279.6 L682.0 1278.3 L683.0 1277.0 L684.0 1275.8 L684.9 1274.5 L685.9 1273.2 L686.8 1271.9 L687.8 1270.6 L688.7 1269.3 L689.7 1268.0 L690.6 1266.8 L691.6 1265.5 L692.5 1264.2 L693.5 1262.9 L694.4 1261.7 L695.4 1260.4 L696.3 1259.1 L697.3 1257.8 L698.3 1256.6 L699.2 1255.3 L700.2 1254.0 L701.1 1252.8 L702.1 1251.5 L703.0 1250.2 L704.0 1249.0 L704.9 1247.7 L705.9 1246.5 L706.8 1245.2 L707.8 1243.9 L708.7 1242.7 L709.7 1241.4 L710.6 1240.2 L711.6 1238.9 L712.6 1237.7 L713.5 1236.4 L714.5 1235.2 L715.4 1233.9 L716.4 1232.7 L717.3 1231.4 L718.3 1230.2 L719.2 1229.0 L720.2 1227.7 L721.1 1226.5 L722.1 1225.2 L723.0 1224.0 L724.0 1222.8 L724.9 1221.5 L725.9 1220.3 L726.9 1219.1 L727.8 1217.8 L728.8 1216.6 L729.7 1215.4 L730.7 1214.1 L731.6 1212.9 L732.6 1211.7 L733.5 1210.5 L734.5 1209.2 L735.4 1208.0 L736.4 1206.8 L737.3 1205.6 L738.3 1204.4 L739.2 1203.1 L740.2 1201.9 L741.1 1200.7 L742.1 1199.5 L743.1 1198.3 L744.0 1197.1 L745.0 1195.9 L745.9 1194.7 L746.9 1193.5 L747.8 1192.2 L748.8 1191.0 L749.7 1189.8 L750.7 1188.6 L751.6 1187.4 L752.6 1186.2 L753.5 1185.0 L754.5 1183.8 L755.4 1182.6 L756.4 1181.4 L757.4 1180.2 L758.3 1179.0 L759.3 1177.9 L760.2 1176.7 L761.2 1175.5 L762.1 1174.3 L763.1 1173.1 L764.0 1171.9 L765.0 1170.7 L765.9 1169.5 L766.9 1168.3 L767.8 1167.2 L768.8 1166.0 L769.7 1164.8 L770.7 1163.6 L771.7 1162.4 L772.6 1161.3 L773.6 1160.1 L774.5 1158.9 L775.5 1157.7 L776.4 1156.5 L777.4 1155.4 L778.3 1154.2 L779.3 1153.0 L780.2 1151.9 L781.2 1150.7 L782.1 1149.5 L783.1 1148.4 L784.0 1147.2 L785.0 1146.0 L785.9 1144.9 L786.9 1143.7 L787.9 1142.5 L788.8 1141.4 L789.8 1140.2 L790.7 1139.0 L791.7 1137.9 L792.6 1136.7 L793.6 1135.6 L794.5 1134.4 L795.5 1133.3 L796.4 1132.1 L797.4 1131.0 L798.3 1129.8 L799.3 1128.6 L800.2 1127.5 L801.2 1126.3 L802.2 1125.2 L803.1 1124.0 L804.1 1122.9 L805.0 1121.8 L806.0 1120.6 L806.9 1119.5 L807.9 1118.3 L808.8 1117.2 L809.8 1116.0 L810.7 1114.9 L811.7 1113.8 L812.6 1112.6 L813.6 1111.5 L814.5 1110.3 L815.5 1109.2 L816.5 1108.1 L817.4 1106.9 L818.4 1105.8 L819.3 1104.7 L820.3 1103.5 L821.2 1102.4 L822.2 1101.3 L823.1 1100.1 L824.1 1099.0 L825.0 1097.9 L826.0 1096.8 L826.9 1095.6 L827.9 1094.5 L828.8 1093.4 L829.8 1092.3 L830.8 1091.1 L831.7 1090.0 L832.7 1088.9 L833.6 1087.8 L834.6 1086.7 L835.5 1085.5 L836.5 1084.4 L837.4 1083.3 L838.4 1082.2 L839.3 1081.1 L840.3 1079.9 L841.2 1078.8 L842.2 1077.7 L843.1 1076.6 L844.1 1075.5 L845.0 1074.4 L846.0 1073.3 L847.0 1072.2 L847.9 1071.1 L848.9 1069.9 L849.8 1068.8 L850.8 1067.7 L851.7 1066.6 L852.7 1065.5 L853.6 1064.4 L854.6 1063.3 L855.5 1062.2 L856.5 1061.1 L857.4 1060.0 L858.4 1058.9 L859.3 1057.8 L860.3 1056.7 L861.3 1055.6 L862.2 1054.5 L863.2 1053.4 L864.1 1052.3 L865.1 1051.2 L866.0 1050.1 L867.0 1049.0 L867.9 1047.9 L868.9 1046.8 L869.8 1045.7 L870.8 1044.6 L871.7 1043.5 L872.7 1042.5 L873.6 1041.4 L874.6 1040.3 L875.6 1039.2 L876.5 1038.1 L877.5 1037.0 L878.4 1035.9 L879.4 1034.8 L880.3 1033.7 L881.3 1032.7 L882.2 1031.6 L883.2 1030.5 L884.1 1029.4 L885.1 1028.3 L886.0 1027.2 L887.0 1026.2 L887.9 1025.1 L888.9 1024.0 L889.9 1022.9 L890.8 1021.8 L891.8 1020.8 L892.7 1019.7 L893.7 1018.6 L894.6 1017.5 L895.6 1016.5 L896.5 1015.4 L897.5 1014.3 L898.4 1013.2 L899.4 1012.2 L900.3 1011.1 L901.3 1010.0 L902.2 1008.9 L903.2 1007.9 L904.1 1006.8 L905.1 1005.7 L906.1 1004.7 L907.0 1003.6 L908.0 1002.5 L908.9 1001.4 L909.9 1000.4 L910.8 999.3 L911.8 998.3 L912.7 997.2 L913.7 996.1 L914.6 995.1 L915.6 994.0 L916.5 992.9 L917.5 991.9 L918.4 990.8 L919.4 989.8 L920.4 988.7 L921.3 987.6 L922.3 986.6 L923.2 985.5 L924.2 984.5 L925.1 983.4 L926.1 982.4 L927.0 981.3 L928.0 980.2 L928.9 979.2 L929.9 978.1 L930.8 977.1 L931.8 976.0 L932.7 975.0 L933.7 973.9 L934.7 972.9 L935.6 971.8 L936.6 970.8 L937.5 969.7 L938.5 968.7 L939.4 967.7 L940.4 966.6 L941.3 965.6 L942.3 964.5 L943.2 963.5 L944.2 962.4 L945.1 961.4 L946.1 960.4 L947.0 959.3 L948.0 958.3 L949.0 957.2 L949.9 956.2 L950.9 955.2 L951.8 954.1 L952.8 953.1 L953.7 952.1 L954.7 951.0 L955.6 950.0 L956.6 949.0 L957.5 947.9 L958.5 946.9 L959.4 945.9 L960.4 944.8 L961.3 943.8 L962.3 942.8 L963.2 941.7 L964.2 940.7 L965.2 939.7 L966.1 938.7 L967.1 937.6 L968.0 936.6 L969.0 935.6 L969.9 934.6 L970.9 933.5 L971.8 932.5 L972.8 931.5 L973.7 930.5 L974.7 929.5 L975.6 928.5 L976.6 927.4 L977.5 926.4 L978.5 925.4 L979.5 924.4 L980.4 923.4 L981.4 922.4 L982.3 921.3 L983.3 920.3 L984.2 919.3 L985.2 918.3 L986.1 917.3 L987.1 916.3 L988.0 915.3 L989.0 914.3 L989.9 913.3 L990.9 912.3 L991.8 911.3 L992.8 910.3 L993.8 909.3 L994.7 908.3 L995.7 907.3 L996.6 906.3 L997.6 905.3 L998.5 904.3 L999.5 903.3 L1000.4 902.3 L1001.4 901.3 L1002.3 900.3 L1003.3 899.3 L1004.2 898.3 L1005.2 897.3 L1006.1 896.3 L1007.1 895.3 L1008.0 894.3 L1009.0 893.3 L1010.0 892.3 L1010.9 891.3 L1011.9 890.3 L1012.8 889.4 L1013.8 888.4 L1014.7 887.4 L1015.7 886.4 L1016.6 885.4 L1017.6 884.4 L1018.5 883.5 L1019.5 882.5 L1020.4 881.5 L1021.4 880.5 L1022.3 879.5 L1023.3 878.6 L1024.3 877.6 L1025.2 876.6 L1026.2 875.6 L1027.1 874.6 L1028.1 873.7 L1029.0 872.7 L1030.0 871.7 L1030.9 870.8 L1031.9 869.8 L1032.8 868.8 L1033.8 867.8 L1034.7 866.9 L1035.7 865.9 L1036.6 864.9 L1037.6 864.0 L1038.6 863.0 L1039.5 862.0 L1040.5 861.1 L1041.4 860.1 L1042.4 859.2 L1043.3 858.2 L1044.3 857.2 L1045.2 856.3 L1046.2 855.3 L1047.1 854.4 L1048.1 853.4 L1049.0 852.5 L1050.0 851.5 L1050.9 850.5 L1051.9 849.6 L1052.9 848.6 L1053.8 847.7 L1054.8 846.7 L1055.7 845.8 L1056.7 844.8 L1057.6 843.9 L1058.6 842.9 L1059.5 842.0 L1060.5 841.1 L1061.4 840.1 L1062.4 839.2 L1063.3 838.2 L1064.3 837.3 L1065.2 836.3 L1066.2 835.4 L1067.1 834.5 L1068.1 833.5 L1069.1 832.6 L1070.0 831.6 L1071.0 830.7 L1071.9 829.8 L1072.9 828.8 L1073.8 827.9 L1074.8 827.0 L1075.7 826.0 L1076.7 825.1 L1077.6 824.2 L1078.6 823.3 L1079.5 822.3 L1080.5 821.4 L1081.4 820.5 L1082.4 819.6 L1083.4 818.6 L1084.3 817.7 L1085.3 816.8 L1086.2 815.9 L1087.2 814.9 L1088.1 814.0 L1089.1 813.1 L1090.0 812.2 L1091.0 811.3 L1091.9 810.4 L1092.9 809.4 L1093.8 808.5 L1094.8 807.6 L1095.7 806.7 L1096.7 805.8 L1097.7 804.9 L1098.6 804.0 L1099.6 803.1 L1100.5 802.2 L1101.5 801.3 L1102.4 800.4 L1103.4 799.4 L1104.3 798.5 L1105.3 797.6 L1106.2 796.7 L1107.2 795.8 L1108.1 794.9 L1109.1 794.0 L1110.0 793.1 L1111.0 792.2 L1112.0 791.4 L1112.9 790.5 L1113.9 789.6 L1114.8 788.7 L1115.8 787.8 L1116.7 786.9 L1117.7 786.0 L1118.6 785.1 L1119.6 784.2 L1120.5 783.3 L1121.5 782.4 L1122.4 781.6 L1123.4 780.7 L1124.3 779.8 L1125.3 778.9 L1126.2 778.0 L1127.2 777.2 L1128.2 776.3 L1129.1 775.4 L1130.1 774.5 L1131.0 773.6 L1132.0 772.8 L1132.9 771.9 L1133.9 771.0 L1134.8 770.1 L1135.8 769.3 L1136.7 768.4 L1137.7 767.5 L1138.6 766.7 L1139.6 765.8 L1140.5 764.9 L1141.5 764.1 L1142.5 763.2 L1143.4 762.3 L1144.4 761.5 L1145.3 760.6 L1146.3 759.7 L1147.2 758.9 L1148.2 758.0 L1149.1 757.2 L1150.1 756.3 L1151.0 755.5 L1152.0 754.6 L1152.9 753.8 L1153.9 752.9 L1154.8 752.0 L1155.8 751.2 L1156.8 750.3 L1157.7 749.5 L1158.7 748.7 L1159.6 747.8 L1160.6 747.0 L1161.5 746.1 L1162.5 745.3 L1163.4 744.4 L1164.4 743.6 L1165.3 742.8 L1166.3 741.9 L1167.2 741.1 L1168.2 740.2 L1169.1 739.4 L1170.1 738.6 L1171.1 737.7 L1172.0 736.9 L1173.0 736.1 L1173.9 735.2 L1174.9 734.4 L1175.8 733.6 L1176.8 732.7 L1177.7 731.9 L1178.7 731.1 L1179.6 730.3 L1180.6 729.4 L1181.5 728.6 L1182.5 727.8 L1183.4 727.0 L1184.4 726.2 L1185.3 725.3 L1186.3 724.5 L1187.3 723.7 L1188.2 722.9 L1189.2 722.1 L1190.1 721.3 L1191.1 720.5 L1192.0 719.6 L1193.0 718.8 L1193.9 718.0 L1194.9 717.2 L1195.8 716.4 L1196.8 715.6 L1197.7 714.8 L1198.7 714.0 L1199.6 713.2 L1200.6 712.4"/>
</g>
<g stroke="#231f20" stroke-width="1.9" fill="none">
<path d="M463.0 126.1 L375.4 280.8"/>
<path d="M463.0 126.1 L517.2 280.8"/>
<path d="M463.0 126.1 L552.1 280.8"/>
<path d="M375.4 280.8 L552.1 280.8"/>
</g>
<g fill="#fff">
<circle cx="463.0" cy="126.1" r="5.80"/>
<circle cx="375.4" cy="280.8" r="5.80"/>
<circle cx="517.2" cy="280.8" r="5.80"/>
<circle cx="552.1" cy="280.8" r="5.80"/>
</g>
<g fill="#231f20">
<circle cx="463.0" cy="126.1" r="3.50"/>
<circle cx="375.4" cy="280.8" r="3.50"/>
<circle cx="517.2" cy="280.8" r="3.50"/>
<circle cx="552.1" cy="280.8" r="3.50"/>
</g>
<g fill="#231f20" style="font-family:&quot;Liberation Serif&quot;,serif">
<text x="441.5" y="115.6" font-size="33.0" text-anchor="start" >Гм</text>
<text x="329.0" y="296.0" font-size="33.0" text-anchor="start" >Кв</text>
<text x="499.0" y="314.8" font-size="33.0" text-anchor="start" >Бр</text>
<text x="562.8" y="295.4" font-size="33.0" text-anchor="start" >Гу</text>
</g>
<g stroke="#231f20" stroke-width="1.9" fill="none">
<path d="M294.0 387.0 L205.9 541.0"/>
<path d="M294.0 387.0 L295.1 541.5"/>
<path d="M294.0 387.0 L355.7 541.5"/>
<path d="M294.0 387.0 L382.6 541.0"/>
<path d="M205.9 541.0 L382.6 541.0"/>
</g>
<g fill="#fff">
<circle cx="294.0" cy="387.0" r="5.55"/>
<circle cx="205.9" cy="541.0" r="5.55"/>
<circle cx="295.1" cy="541.5" r="5.55"/>
<circle cx="355.7" cy="541.5" r="5.55"/>
<circle cx="382.6" cy="541.0" r="5.55"/>
</g>
<g fill="#231f20">
<circle cx="294.0" cy="387.0" r="3.25"/>
<circle cx="205.9" cy="541.0" r="3.25"/>
<circle cx="295.1" cy="541.5" r="3.25"/>
<circle cx="355.7" cy="541.5" r="3.25"/>
<circle cx="382.6" cy="541.0" r="3.25"/>
</g>
<g fill="#231f20" style="font-family:&quot;Liberation Serif&quot;,serif">
<text x="273.0" y="376.6" font-size="33.0" text-anchor="start" >Гм</text>
<text x="160.0" y="555.5" font-size="33.0" text-anchor="start" >Кв</text>
<text x="267.0" y="576.0" font-size="33.0" text-anchor="start" >Пи</text>
<text x="337.6" y="576.5" font-size="33.0" text-anchor="start" >Бр</text>
<text x="392.0" y="556.0" font-size="33.0" text-anchor="start" >Гу</text>
</g>
<g stroke="#231f20" stroke-width="1.9" fill="none">
<path d="M765.0 64.3 L677.6 218.0"/>
<path d="M765.0 64.3 L766.7 218.5"/>
<path d="M765.0 64.3 L794.6 218.5"/>
<path d="M765.0 64.3 L826.9 218.5"/>
<path d="M765.0 64.3 L854.1 218.0"/>
<path d="M677.6 218.0 L854.1 218.0"/>
</g>
<g fill="#fff">
<circle cx="765.0" cy="64.3" r="5.55"/>
<circle cx="677.6" cy="218.0" r="5.55"/>
<circle cx="766.7" cy="218.5" r="5.55"/>
<circle cx="794.6" cy="218.5" r="5.55"/>
<circle cx="826.9" cy="218.5" r="5.55"/>
<circle cx="854.1" cy="218.0" r="5.55"/>
</g>
<g fill="#231f20">
<circle cx="765.0" cy="64.3" r="3.25"/>
<circle cx="677.6" cy="218.0" r="3.25"/>
<circle cx="766.7" cy="218.5" r="3.25"/>
<circle cx="794.6" cy="218.5" r="3.25"/>
<circle cx="826.9" cy="218.5" r="3.25"/>
<circle cx="854.1" cy="218.0" r="3.25"/>
</g>
<g fill="#231f20" style="font-family:&quot;Liberation Serif&quot;,serif">
<text x="743.5" y="54.2" font-size="33.0" text-anchor="start" >Гм</text>
<text x="631.5" y="232.5" font-size="33.0" text-anchor="start" >Кв</text>
<text x="730.3" y="253.0" font-size="33.0" text-anchor="start" >Пи</text>
<text x="817.0" y="253.5" font-size="33.0" text-anchor="start" >Бр</text>
<text x="865.0" y="232.5" font-size="33.0" text-anchor="start" >Гу</text>
<text x="777.0" y="286.5" font-size="33.0" text-anchor="start" >Тф</text>
</g>
<path d="M794.6 227.6 L794.6 255.3" stroke="#231f20" stroke-width="1.9"/>
<g stroke="#231f20" stroke-width="1.9" fill="none">
<path d="M1243.3 236.8 L1174.0 360.0"/>
<path d="M1243.3 236.8 L1244.8 360.0"/>
<path d="M1243.3 236.8 L1266.8 360.0"/>
<path d="M1243.3 236.8 L1314.5 360.0"/>
<path d="M1174.0 360.0 L1314.5 360.0"/>
</g>
<g fill="#fff">
<circle cx="1243.3" cy="236.8" r="5.50"/>
<circle cx="1174.0" cy="360.0" r="5.50"/>
<circle cx="1244.8" cy="360.0" r="5.50"/>
<circle cx="1266.8" cy="360.0" r="5.50"/>
<circle cx="1314.5" cy="360.0" r="5.50"/>
</g>
<g fill="#231f20">
<circle cx="1243.3" cy="236.8" r="3.20"/>
<circle cx="1174.0" cy="360.0" r="3.20"/>
<circle cx="1244.8" cy="360.0" r="3.20"/>
<circle cx="1266.8" cy="360.0" r="3.20"/>
<circle cx="1314.5" cy="360.0" r="3.20"/>
</g>
<g fill="#231f20" style="font-family:&quot;Liberation Serif&quot;,serif">
<text x="1226.0" y="229.4" font-size="33.0" text-anchor="start" >Гм</text>
<text x="1133.3" y="376.3" font-size="33.0" text-anchor="start" >Кв</text>
<text x="1209.0" y="393.2" font-size="33.0" text-anchor="start" >Пи</text>
<text x="1260.0" y="393.2" font-size="33.0" text-anchor="start" >Тф</text>
<text x="1323.6" y="377.3" font-size="33.0" text-anchor="start" >Гу</text>
</g>
<g stroke="#231f20" stroke-width="1.9" fill="none">
<path d="M265.7 1029.9 L196.0 1153.0"/>
<path d="M265.7 1029.9 L266.5 1153.0"/>
<path d="M265.7 1029.9 L289.0 1153.0"/>
<path d="M290.4 1070.6 L289.0 1153.0"/>
<path d="M265.7 1029.9 L290.4 1070.6"/>
<path d="M290.4 1070.6 L336.4 1153.0"/>
<path d="M196.0 1153.0 L336.4 1153.0"/>
</g>
<g fill="#fff">
<circle cx="265.7" cy="1029.9" r="4.80"/>
<circle cx="290.4" cy="1070.6" r="4.80"/>
<circle cx="196.0" cy="1153.0" r="4.80"/>
<circle cx="266.5" cy="1153.0" r="4.80"/>
<circle cx="289.0" cy="1153.0" r="4.80"/>
<circle cx="336.4" cy="1153.0" r="4.80"/>
</g>
<g fill="#231f20">
<circle cx="265.7" cy="1029.9" r="2.50"/>
<circle cx="290.4" cy="1070.6" r="2.50"/>
<circle cx="196.0" cy="1153.0" r="2.50"/>
<circle cx="266.5" cy="1153.0" r="2.50"/>
<circle cx="289.0" cy="1153.0" r="2.50"/>
<circle cx="336.4" cy="1153.0" r="2.50"/>
</g>
<g fill="#231f20" style="font-family:&quot;Liberation Serif&quot;,serif">
<text x="248.0" y="1023.0" font-size="33.0" text-anchor="start" >Гм</text>
<text x="300.5" y="1074.0" font-size="33.0" text-anchor="start" >Як</text>
<text x="156.0" y="1170.0" font-size="33.0" text-anchor="start" >Кв</text>
<text x="231.6" y="1185.4" font-size="33.0" text-anchor="start" >Пи</text>
<text x="281.0" y="1185.4" font-size="33.0" text-anchor="start" >Тф</text>
<text x="344.5" y="1170.0" font-size="33.0" text-anchor="start" >Гу</text>
</g>
<g stroke="#231f20" stroke-width="1.9" fill="none">
<path d="M463.2 819.0 L393.4 943.1"/>
<path d="M463.2 819.0 L464.2 943.1"/>
<path d="M463.2 819.0 L486.6 943.1"/>
<path d="M487.8 859.5 L486.6 943.1"/>
<path d="M463.2 819.0 L487.8 859.5"/>
<path d="M487.8 859.5 L534.8 943.1"/>
<path d="M393.4 943.1 L534.8 943.1"/>
</g>
<g fill="#fff">
<circle cx="463.2" cy="819.0" r="5.20"/>
<circle cx="487.8" cy="859.5" r="5.20"/>
<circle cx="393.4" cy="943.1" r="5.20"/>
<circle cx="464.2" cy="943.1" r="5.20"/>
<circle cx="486.6" cy="943.1" r="5.20"/>
<circle cx="534.8" cy="943.1" r="5.20"/>
</g>
<g fill="#231f20">
<circle cx="463.2" cy="819.0" r="2.90"/>
<circle cx="487.8" cy="859.5" r="2.90"/>
<circle cx="393.4" cy="943.1" r="2.90"/>
<circle cx="464.2" cy="943.1" r="2.90"/>
<circle cx="486.6" cy="943.1" r="2.90"/>
<circle cx="534.8" cy="943.1" r="2.90"/>
</g>
<g fill="#231f20" style="font-family:&quot;Liberation Serif&quot;,serif">
<text x="445.8" y="811.8" font-size="33.0" text-anchor="start" >Мт</text>
<text x="497.6" y="863.6" font-size="33.0" text-anchor="start" >Як</text>
<text x="352.0" y="958.7" font-size="33.0" text-anchor="start" >Кв</text>
<text x="429.0" y="975.6" font-size="33.0" text-anchor="start" >Пи</text>
<text x="479.6" y="975.6" font-size="33.0" text-anchor="start" >Тф</text>
<text x="542.2" y="959.0" font-size="33.0" text-anchor="start" >Гу</text>
</g>
<g stroke="#231f20" stroke-width="1.9" fill="none">
<path d="M655.2 1027.9 L585.5 1150.8"/>
<path d="M655.2 1027.9 L656.7 1151.1"/>
<path d="M655.2 1027.9 L679.0 1151.1"/>
<path d="M680.0 1068.1 L679.0 1151.1"/>
<path d="M655.2 1027.9 L680.0 1068.1"/>
<path d="M680.0 1068.1 L727.0 1150.8"/>
<path d="M585.5 1150.8 L727.0 1150.8"/>
</g>
<g fill="#fff">
<circle cx="655.2" cy="1027.9" r="5.50"/>
<circle cx="680.0" cy="1068.1" r="5.50"/>
<circle cx="585.5" cy="1150.8" r="5.50"/>
<circle cx="656.7" cy="1151.1" r="5.50"/>
<circle cx="679.0" cy="1151.1" r="5.50"/>
<circle cx="727.0" cy="1150.8" r="5.50"/>
</g>
<g fill="#231f20">
<circle cx="655.2" cy="1027.9" r="3.20"/>
<circle cx="680.0" cy="1068.1" r="3.20"/>
<circle cx="585.5" cy="1150.8" r="3.20"/>
<circle cx="656.7" cy="1151.1" r="3.20"/>
<circle cx="679.0" cy="1151.1" r="3.20"/>
<circle cx="727.0" cy="1150.8" r="3.20"/>
</g>
<g fill="#231f20" style="font-family:&quot;Liberation Serif&quot;,serif">
<text x="664.4" y="1028.5" font-size="33.0" text-anchor="start" >Мт</text>
<text x="687.6" y="1072.8" font-size="33.0" text-anchor="start" >Як</text>
<text x="727.0" y="1137.8" font-size="33.0" text-anchor="start" >Мн</text>
<text x="544.2" y="1167.2" font-size="33.0" text-anchor="start" >Кв</text>
<text x="621.7" y="1184.3" font-size="33.0" text-anchor="start" >Пи</text>
<text x="671.2" y="1184.3" font-size="33.0" text-anchor="start" >Тф</text>
</g>
<g stroke="#231f20" stroke-width="1.9" fill="none">
<path d="M869.3 1202.9 L781.8 1357.0"/>
<path d="M869.3 1202.9 L870.7 1357.0"/>
<path d="M869.3 1202.9 L898.8 1357.0"/>
<path d="M869.3 1202.9 L958.0 1357.0"/>
<path d="M781.8 1357.0 L958.0 1357.0"/>
</g>
<g fill="#fff">
<circle cx="869.3" cy="1202.9" r="5.80"/>
<circle cx="781.8" cy="1357.0" r="5.80"/>
<circle cx="870.7" cy="1357.0" r="5.80"/>
<circle cx="898.8" cy="1357.0" r="5.80"/>
<circle cx="958.0" cy="1357.0" r="5.80"/>
</g>
<g fill="#231f20">
<circle cx="869.3" cy="1202.9" r="3.50"/>
<circle cx="781.8" cy="1357.0" r="3.50"/>
<circle cx="870.7" cy="1357.0" r="3.50"/>
<circle cx="898.8" cy="1357.0" r="3.50"/>
<circle cx="958.0" cy="1357.0" r="3.50"/>
</g>
<g fill="#231f20" style="font-family:&quot;Liberation Serif&quot;,serif">
<text x="847.7" y="1192.7" font-size="33.0" text-anchor="start" >Мт</text>
<text x="736.2" y="1371.6" font-size="33.0" text-anchor="start" >Кв</text>
<text x="842.0" y="1392.3" font-size="33.0" text-anchor="start" >Пи</text>
<text x="894.5" y="1392.3" font-size="33.0" text-anchor="start" >Тф</text>
<text x="970.2" y="1371.6" font-size="33.0" text-anchor="start" >Мн</text>
</g>
<path d="M323.4 587.5 L324.0 588.4 L324.6 589.2 L325.2 590.1 L325.9 590.9 L326.5 591.8 L327.1 592.6 L327.7 593.5 L328.3 594.3 L329.0 595.2 L329.6 596.0 L330.2 596.8 L330.9 597.7 L331.5 598.5 L332.2 599.3 L332.8 600.1 L333.5 601.0 L334.2 601.8 L334.9 602.6 L335.6 603.4 L336.3 604.2 L337.0 605.0 L337.7 605.7 L338.4 606.5 L339.1 607.3 L339.9 608.0 L340.6 608.8 L341.4 609.5 L342.2 610.2 L343.0 610.9 L343.8 611.7 L344.6 612.3 L345.4 613.0 L346.2 613.7 L347.0 614.4 L347.9 615.0 L348.7 615.6 L349.6 616.3 L350.4 616.9 L351.3 617.5 L352.2 618.0 L353.1 618.6 L354.0 619.2 L354.9 619.7 L355.8 620.2 L356.7 620.7 L357.6 621.2 L358.6 621.7 L359.5 622.1 L360.5 622.5 L361.4 623.0 L362.4 623.4 L363.4 623.7 L364.3 624.1 L365.3 624.5 L366.3 624.8 L367.3 625.1 L368.3 625.5 L369.3 625.8 L370.3 626.1 L371.4 626.3 L372.4 626.6 L373.4 626.9 L374.4 627.1 L375.5 627.3 L376.5 627.6 L377.6 627.8 L378.6 628.0 L379.7 628.2 L380.7 628.3 L381.8 628.5 L382.8 628.7 L383.9 628.8 L384.9 629.0 L386.0 629.1 L387.1 629.2 L388.1 629.4 L389.2 629.5 L390.3 629.6 L391.3 629.7 L392.4 629.8 L393.5 629.9 L394.5 630.0 L395.6 630.0 L396.7 630.1 L397.7 630.2 L398.8 630.3 L399.9 630.3 L400.9 630.4 L402.0 630.4 L403.0 630.5 L404.1 630.5 L405.2 630.6 L406.2 630.6 L407.3 630.7 L408.3 630.7 L409.4 630.7 L410.4 630.8 L411.5 630.8 L412.5 630.8 L413.6 630.9 L414.6 630.9 L415.7 630.9 L416.7 630.9 L417.8 630.9 L418.8 630.9 L419.9 630.9 L420.9 631.0 L422.0 631.0 L423.0 631.0 L424.1 631.0 L425.1 631.0 L426.2 631.0 L427.2 631.0 L428.3 631.0 L429.3 631.0 L430.4 631.0 L431.4 631.0 L432.5 631.0 L433.5 631.0" stroke="#231f20" stroke-width="2.0" fill="none"/>
<path d="M433.5 631.0 L415.0 637.9 L419.5 631.0 L415.0 624.1 Z" fill="#231f20"/>
<path d="M708.4 251.2 L708.2 252.8 L708.0 254.4 L707.7 256.1 L707.5 257.7 L707.3 259.3 L707.1 260.9 L706.9 262.6 L706.6 264.2 L706.4 265.8 L706.2 267.4 L706.0 269.1 L705.8 270.7 L705.6 272.3 L705.4 274.0 L705.2 275.6 L705.0 277.2 L704.8 278.8 L704.6 280.5 L704.4 282.1 L704.2 283.7 L704.0 285.4 L703.8 287.0 L703.6 288.7 L703.5 290.3 L703.3 291.9 L703.1 293.6 L703.0 295.2 L702.8 296.9 L702.6 298.5 L702.5 300.1 L702.3 301.8 L702.2 303.4 L702.1 305.1 L701.9 306.7 L701.8 308.4 L701.7 310.0 L701.7 311.7 L701.6 313.3 L701.5 315.0 L701.5 316.6 L701.5 318.3 L701.5 319.9 L701.6 321.6 L701.6 323.2 L701.7 324.8 L701.8 326.5 L702.0 328.1 L702.2 329.7 L702.4 331.3 L702.6 333.0 L702.9 334.6 L703.2 336.2 L703.6 337.8 L703.9 339.4 L704.3 341.0 L704.7 342.6 L705.1 344.2 L705.6 345.8 L706.1 347.3 L706.5 348.9 L707.0 350.5 L707.6 352.1 L708.1 353.6 L708.6 355.2 L709.2 356.8 L709.7 358.3 L710.3 359.9 L710.8 361.4 L711.4 363.0 L712.0 364.5 L712.5 366.1 L713.1 367.6 L713.7 369.2 L714.3 370.7 L714.9 372.3 L715.5 373.8 L716.1 375.3 L716.7 376.8 L717.4 378.4 L718.0 379.9 L718.6 381.4 L719.3 382.9 L719.9 384.4 L720.6 385.9 L721.2 387.4 L721.9 388.9 L722.6 390.4 L723.3 391.9 L723.9 393.4 L724.6 394.9 L725.3 396.4 L726.1 397.9 L726.8 399.3 L727.5 400.8 L728.2 402.3 L729.0 403.7 L729.7 405.2 L730.5 406.7 L731.3 408.1 L732.0 409.6 L732.8 411.0 L733.6 412.4 L734.4 413.9 L735.2 415.3 L736.0 416.7 L736.8 418.2 L737.7 419.6 L738.5 421.0 L739.3 422.4 L740.1 423.8 L741.0 425.2 L741.8 426.7 L742.7 428.1 L743.5 429.5 L744.4 430.9 L745.2 432.3 L746.1 433.7 L746.9 435.1 L747.8 436.5" stroke="#231f20" stroke-width="2.0" fill="none"/>
<path d="M747.8 436.5 L732.3 424.3 L740.5 424.5 L744.1 417.1 Z" fill="#231f20"/>
<path d="M1175.3 310.8 L1174.2 310.5 L1173.2 310.2 L1172.1 309.8 L1171.1 309.5 L1170.0 309.2 L1169.0 308.9 L1167.9 308.6 L1166.9 308.3 L1165.8 308.0 L1164.8 307.7 L1163.7 307.4 L1162.7 307.1 L1161.6 306.9 L1160.6 306.6 L1159.5 306.3 L1158.5 306.1 L1157.5 305.9 L1156.4 305.6 L1155.4 305.4 L1154.3 305.2 L1153.3 305.0 L1152.2 304.8 L1151.2 304.6 L1150.2 304.5 L1149.1 304.3 L1148.1 304.2 L1147.0 304.1 L1146.0 303.9 L1145.0 303.9 L1143.9 303.8 L1142.9 303.7 L1141.9 303.7 L1140.8 303.7 L1139.8 303.7 L1138.8 303.7 L1137.8 303.7 L1136.7 303.8 L1135.7 303.9 L1134.7 304.0 L1133.7 304.1 L1132.6 304.2 L1131.6 304.4 L1130.6 304.6 L1129.6 304.8 L1128.6 305.0 L1127.6 305.2 L1126.6 305.5 L1125.6 305.8 L1124.6 306.1 L1123.6 306.4 L1122.6 306.7 L1121.6 307.1 L1120.6 307.5 L1119.6 307.8 L1118.6 308.2 L1117.6 308.7 L1116.7 309.1 L1115.7 309.5 L1114.7 310.0 L1113.7 310.4 L1112.8 310.9 L1111.8 311.4 L1110.9 311.9 L1109.9 312.4 L1108.9 312.9 L1108.0 313.5 L1107.1 314.0 L1106.1 314.6 L1105.2 315.1 L1104.3 315.7 L1103.3 316.2 L1102.4 316.8 L1101.5 317.4 L1100.6 318.0 L1099.7 318.6 L1098.8 319.2 L1097.9 319.8 L1097.0 320.4 L1096.1 321.0 L1095.2 321.6 L1094.3 322.2 L1093.5 322.9 L1092.6 323.5 L1091.7 324.1 L1090.9 324.7 L1090.0 325.4 L1089.1 326.0 L1088.3 326.6 L1087.5 327.3 L1086.6 327.9 L1085.8 328.6 L1084.9 329.2 L1084.1 329.9 L1083.3 330.5 L1082.4 331.2 L1081.6 331.9 L1080.8 332.5 L1080.0 333.2 L1079.2 333.8 L1078.4 334.5 L1077.5 335.2 L1076.7 335.9 L1075.9 336.5 L1075.1 337.2 L1074.3 337.9 L1073.5 338.5 L1072.7 339.2 L1071.9 339.9 L1071.1 340.6 L1070.3 341.3 L1069.5 341.9 L1068.7 342.6 L1067.9 343.3 L1067.2 344.0 L1066.4 344.7 L1065.6 345.3 L1064.8 346.0 L1064.0 346.7 L1063.2 347.4" stroke="#231f20" stroke-width="2.0" fill="none"/>
<path d="M1063.2 347.4 L1072.7 330.1 L1073.8 338.3 L1081.7 340.5 Z" fill="#231f20"/>
<path d="M466.7 990.6 L467.3 991.5 L467.9 992.4 L468.6 993.2 L469.2 994.1 L469.8 995.0 L470.4 995.8 L471.1 996.7 L471.7 997.6 L472.3 998.4 L473.0 999.3 L473.6 1000.2 L474.3 1001.0 L474.9 1001.8 L475.6 1002.7 L476.2 1003.5 L476.9 1004.3 L477.6 1005.2 L478.2 1006.0 L478.9 1006.8 L479.6 1007.6 L480.3 1008.4 L481.0 1009.2 L481.7 1009.9 L482.5 1010.7 L483.2 1011.4 L484.0 1012.2 L484.7 1012.9 L485.5 1013.6 L486.2 1014.3 L487.0 1015.0 L487.8 1015.7 L488.6 1016.4 L489.5 1017.0 L490.3 1017.7 L491.1 1018.3 L492.0 1018.9 L492.9 1019.5 L493.7 1020.1 L494.6 1020.7 L495.5 1021.3 L496.4 1021.8 L497.3 1022.4 L498.3 1022.9 L499.2 1023.4 L500.1 1023.9 L501.1 1024.4 L502.0 1024.8 L503.0 1025.3 L504.0 1025.8 L505.0 1026.2 L505.9 1026.6 L506.9 1027.0 L507.9 1027.4 L508.9 1027.8 L509.9 1028.2 L511.0 1028.5 L512.0 1028.9 L513.0 1029.2 L514.0 1029.5 L515.0 1029.8 L516.1 1030.1 L517.1 1030.4 L518.1 1030.7 L519.2 1030.9 L520.2 1031.2 L521.2 1031.4 L522.3 1031.6 L523.3 1031.9 L524.3 1032.1 L525.4 1032.3 L526.4 1032.4 L527.5 1032.6 L528.5 1032.8 L529.6 1032.9 L530.6 1033.0 L531.7 1033.2 L532.7 1033.3 L533.8 1033.4 L534.8 1033.5 L535.9 1033.6 L536.9 1033.7 L538.0 1033.8 L539.0 1033.8 L540.1 1033.9 L541.2 1034.0 L542.2 1034.0 L543.3 1034.1 L544.3 1034.1 L545.4 1034.1 L546.4 1034.1 L547.5 1034.2 L548.5 1034.2 L549.6 1034.2 L550.7 1034.2 L551.7 1034.2 L552.8 1034.2 L553.8 1034.1 L554.9 1034.1 L555.9 1034.1 L557.0 1034.1 L558.1 1034.0 L559.1 1034.0 L560.2 1034.0 L561.2 1033.9 L562.3 1033.9 L563.3 1033.8 L564.4 1033.8 L565.5 1033.7 L566.5 1033.7 L567.6 1033.6 L568.6 1033.5 L569.7 1033.5 L570.8 1033.4 L571.8 1033.3 L572.9 1033.3 L573.9 1033.2 L575.0 1033.1 L576.0 1033.1 L577.1 1033.0" stroke="#231f20" stroke-width="2.0" fill="none"/>
<path d="M577.1 1033.0 L559.1 1041.1 L563.1 1033.9 L558.2 1027.3 Z" fill="#231f20"/>
<g fill="#231f20" style="font-family:&quot;Liberation Serif&quot;,serif">
<text transform="translate(287.7 699.9) rotate(-44.0)" x="0" y="13.4" font-size="41.0" text-anchor="middle">Бр + Кв</text>
<text transform="translate(326.4 724.6) rotate(-44.0)" x="0" y="13.4" font-size="41.0" text-anchor="middle">Пи</text>
<text transform="translate(572.2 523.4) rotate(-35.0)" x="0" y="13.4" font-size="41.0" text-anchor="middle">Бр + Пи = Тф</text>
<text transform="translate(480.1 683.7) rotate(-42.0)" x="0" y="13.4" font-size="41.0" text-anchor="middle">Бр = Тф + Гу</text>
<text transform="translate(857.4 502.0) rotate(-23.0)" x="0" y="13.4" font-size="41.0" text-anchor="middle">Гм + Гу</text>
<text transform="translate(868.8 551.3) rotate(-23.0)" x="0" y="13.4" font-size="41.0" text-anchor="middle">Як</text>
<text transform="translate(1063.3 532.3) rotate(-34.0)" x="0" y="13.4" font-size="41.0" text-anchor="middle">Гм</text>
<text transform="translate(1091.3 570.2) rotate(-34.0)" x="0" y="13.4" font-size="41.0" text-anchor="middle">Мт</text>
<text transform="translate(989.4 875.4) rotate(-44.0)" x="0" y="13.4" font-size="41.0" text-anchor="middle">Як</text>
<text transform="translate(1028.2 911.7) rotate(-44.0)" x="0" y="13.4" font-size="41.0" text-anchor="middle">Мт + Мн</text>
<text transform="translate(398.6 1250.2) rotate(-58.0)" x="0" y="13.4" font-size="41.0" text-anchor="middle">Гу</text>
<text transform="translate(440.2 1273.0) rotate(-58.0)" x="0" y="13.4" font-size="41.0" text-anchor="middle">Мн</text>
</g>
<g stroke="#231f20" fill="none">
<rect x="1093.7" y="1070.1" width="333.1" height="359.3" stroke-width="2.1"/>
<path d="M1251.2 1139.5 L1162.6 1293.6 L1342 1293.6 Z" stroke-width="2.0" stroke-linejoin="miter"/>
</g>
<g fill="#231f20" style="font-family:&quot;Liberation Serif&quot;,serif">
<text x="1254.5" y="1128.5" font-size="41.0" text-anchor="middle" >Fe</text>
<text x="1122.5" y="1314.8" font-size="41.0" text-anchor="start" >Si</text>
<text x="1350.0" y="1314.3" font-size="41.0" text-anchor="start" >Mn</text>
<text x="1136.5" y="1391.4" font-size="46.0" text-anchor="start" font-style="italic">P</text>
<text x="1165.0" y="1401.0" font-size="35.5" text-anchor="start" >фл</text>
<text x="1216.0" y="1391.4" font-size="46.0" text-anchor="start" >= 2 кбар</text>
</g>
</svg>
</body></html>
